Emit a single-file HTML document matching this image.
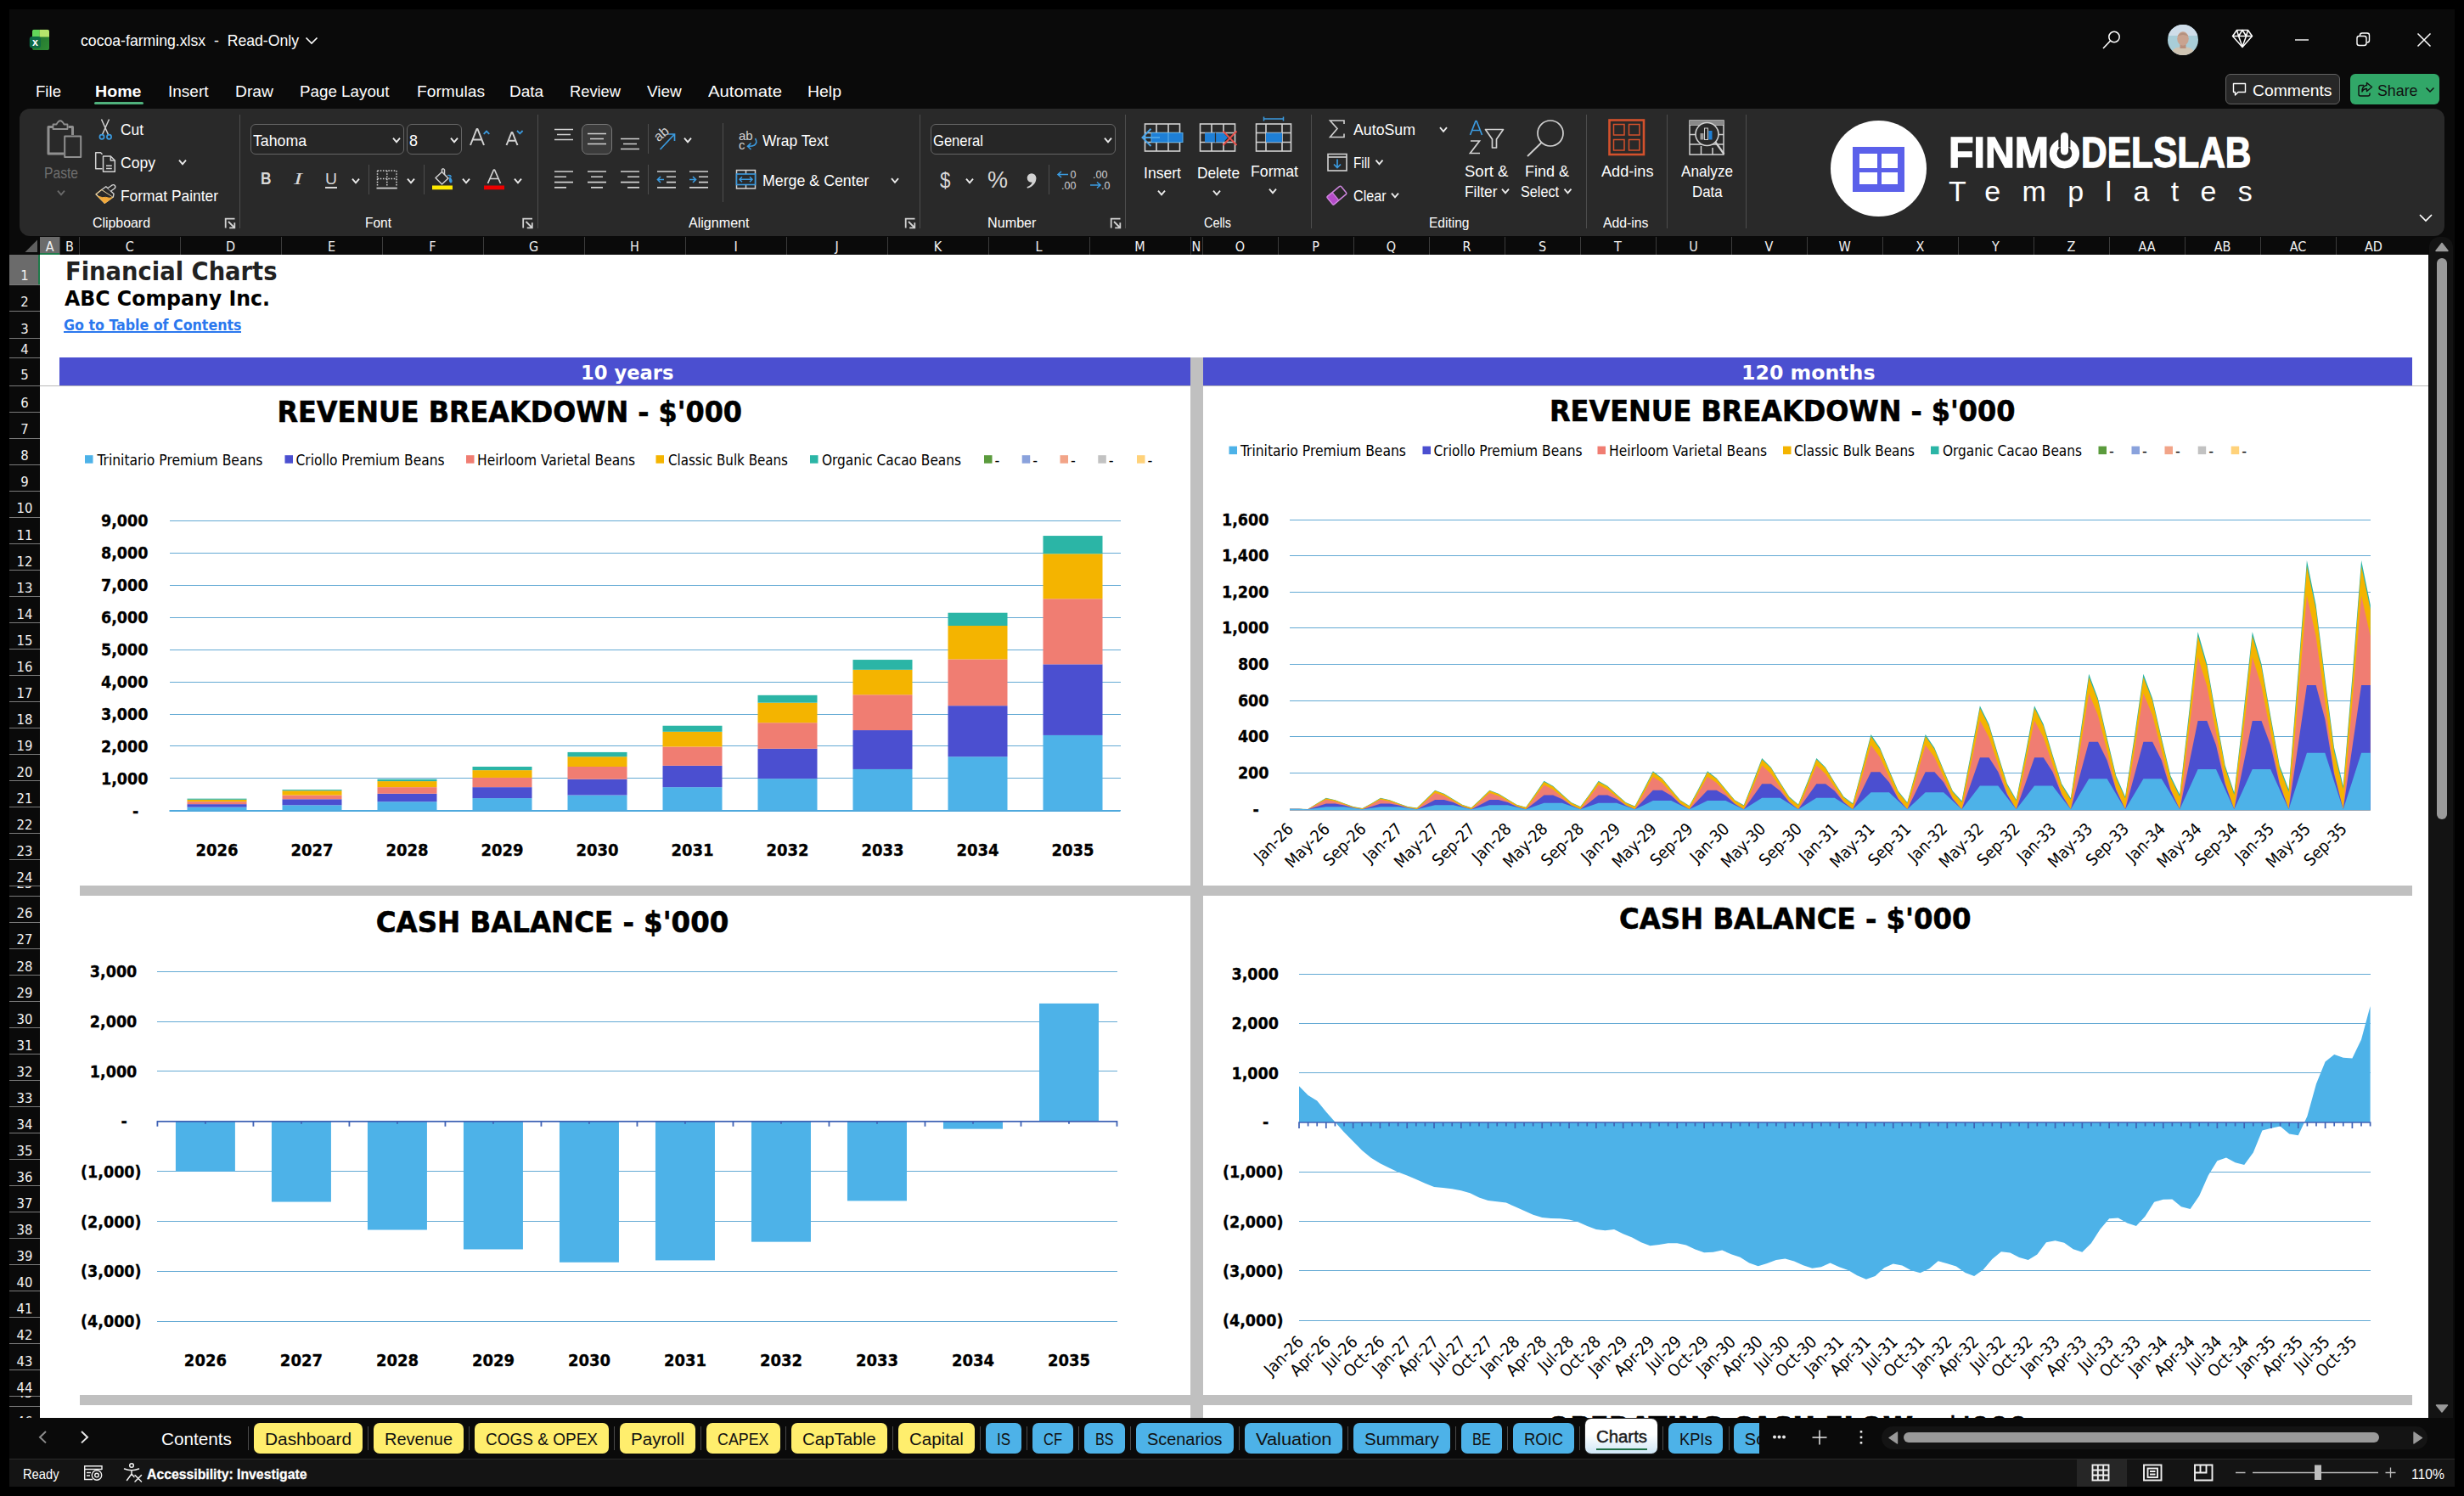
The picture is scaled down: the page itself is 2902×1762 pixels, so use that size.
<!DOCTYPE html>
<html lang="en"><head><meta charset="utf-8"><title>cocoa-farming.xlsx - Excel</title>
<style>
html,body{margin:0;padding:0}
body{width:2902px;height:1762px;background:#000;overflow:hidden;position:relative;font-family:"Liberation Sans",sans-serif}
.sec{position:absolute;left:0;top:0;width:0;height:0}
.sec>div,.sec>span,.sec>svg,.sec>a{position:absolute}
.t{white-space:pre;line-height:1;display:block}
svg{overflow:visible}
svg text{white-space:pre}
</style></head><body>
<div class="sec" id="window">
<div style="left:11px;top:11px;width:2880px;height:1740px;background:#0a0a0a;"></div>
</div>
<div class="sec" id="titlebar">
<svg style="left:34px;top:34px" width="26" height="26" viewBox="0 0 26 26">
<defs><linearGradient id="xg" x1="0" y1="0" x2="1" y2="1"><stop offset="0" stop-color="#1f6a2b"/><stop offset="1" stop-color="#2f8d35"/></linearGradient>
<clipPath id="xc"><rect x="4" y="0.800" width="20" height="24.200" rx="2.600"/></clipPath></defs>
<g clip-path="url(#xc)"><rect x="4" y="0.800" width="20" height="24.200" fill="url(#xg)"/><rect x="4" y="0.800" width="8.600" height="8.700" fill="#62d65a"/><rect x="12.600" y="0.800" width="11.400" height="8.700" fill="#b5e56b"/></g>
<rect x="0.800" y="8.900" width="13.200" height="13.600" rx="3" fill="#0e6b45"/>
<text x="7.500" y="19.500" font-family="Liberation Sans, sans-serif" font-weight="bold" font-size="12.500" fill="#fff" text-anchor="middle">x</text>
</svg>
<span class="t" style="font-family:'Liberation Sans', sans-serif;font-size:18.5px;color:#fff;left:95px;top:39.15px;transform:scaleX(0.9541);transform-origin:0 0;">cocoa-farming.xlsx  -  Read-Only</span>
<svg style="left:359px;top:42px" width="16" height="12"><path d="M1.5 2.5 L8 9 L14.5 2.5" fill="none" stroke="#fff" stroke-width="1.6"/></svg>
<svg style="left:2470px;top:30px" width="420" height="36">
<circle cx="20" cy="13.5" r="6.2" fill="none" stroke="#fff" stroke-width="1.5"/><path d="M15.6 18 L7 27" stroke="#fff" stroke-width="1.6"/>
<defs><clipPath id="av"><circle cx="101" cy="17" r="18"/></clipPath></defs>
<g clip-path="url(#av)"><rect x="83" y="-1" width="36" height="36" fill="#a8cdd8"/><rect x="83" y="-1" width="36" height="13" fill="#cfdde9"/>
<path d="M86 35 Q88 26.500 96 25.500 L106 25.500 Q114 26.500 116 35 Z" fill="#cfc4b3"/><rect x="97.500" y="20" width="7" height="7" fill="#b98f7c"/><ellipse cx="101" cy="15.500" rx="6.800" ry="8.300" fill="#c9a390"/><path d="M94.500 12.500 Q101 4.500 107.500 12.500 Q101 9.500 94.500 12.500Z" fill="#b3917f"/></g>
<g fill="none" stroke="#fff" stroke-width="1.5" stroke-linejoin="round"><path d="M164.500 5.5 L177.500 5.5 L182.500 12.500 L171 25.500 L159.500 12.500 Z"/><path d="M159.500 12.500 H182.500 M166.500 12.500 L171 25 L175.500 12.500 M164.500 5.500 L166.500 12.500 L171 5.500 L175.500 12.500 L177.500 5.500"/></g>
<path d="M233 17 H249" stroke="#fff" stroke-width="1.4"/>
<g fill="none" stroke="#fff" stroke-width="1.4"><rect x="306" y="12.500" width="11" height="11" rx="2.500"/><path d="M309.500 12 V11.500 Q309.500 9 312 9 H318 Q320.500 9 320.500 11.500 V17.500 Q320.500 20 318 20 H317.500"/></g>
<path d="M377.500 9.500 L392.500 24.500 M392.500 9.500 L377.500 24.500" stroke="#fff" stroke-width="1.5"/>
</svg>
</div>
<div class="sec" id="menubar">
<span class="t" style="font-family:'Liberation Sans', sans-serif;font-size:19px;color:#fff;left:42px;top:98.23px;transform:scaleX(0.9796);transform-origin:0 0;">File</span>
<span class="t" style="font-family:'Liberation Sans', sans-serif;font-size:19px;font-weight:bold;color:#fff;left:111.5px;top:98.23px;transform:scaleX(1.0323);transform-origin:0 0;">Home</span>
<span class="t" style="font-family:'Liberation Sans', sans-serif;font-size:19px;color:#fff;left:198px;top:98.23px;">Insert</span>
<span class="t" style="font-family:'Liberation Sans', sans-serif;font-size:19px;color:#fff;left:277px;top:98.23px;transform:scaleX(1.0148);transform-origin:0 0;">Draw</span>
<span class="t" style="font-family:'Liberation Sans', sans-serif;font-size:19px;color:#fff;left:353px;top:98.23px;transform:scaleX(0.9887);transform-origin:0 0;">Page Layout</span>
<span class="t" style="font-family:'Liberation Sans', sans-serif;font-size:19px;color:#fff;left:491px;top:98.23px;transform:scaleX(1.0103);transform-origin:0 0;">Formulas</span>
<span class="t" style="font-family:'Liberation Sans', sans-serif;font-size:19px;color:#fff;left:600px;top:98.23px;">Data</span>
<span class="t" style="font-family:'Liberation Sans', sans-serif;font-size:19px;color:#fff;left:671px;top:98.23px;transform:scaleX(0.9629);transform-origin:0 0;">Review</span>
<span class="t" style="font-family:'Liberation Sans', sans-serif;font-size:19px;color:#fff;left:762px;top:98.23px;">View</span>
<span class="t" style="font-family:'Liberation Sans', sans-serif;font-size:19px;color:#fff;left:834px;top:98.23px;transform:scaleX(1.0697);transform-origin:0 0;">Automate</span>
<span class="t" style="font-family:'Liberation Sans', sans-serif;font-size:19px;color:#fff;left:951px;top:98.23px;transform:scaleX(1.0236);transform-origin:0 0;">Help</span>
<div style="left:111px;top:120px;width:58px;height:3px;background:#4fb17c;border-radius:1.5px;"></div>
<div style="left:2621px;top:87px;width:135px;height:36px;background:#272727;border:1px solid #616161;border-radius:6px;box-sizing:border-box;"></div>
<svg style="left:2628px;top:96px" width="20" height="20"><path d="M2.5 2.500 H16.500 V12.500 H8 L4.500 16 V12.500 H2.500 Z" fill="none" stroke="#fff" stroke-width="1.4" stroke-linejoin="round"/></svg>
<span class="t" style="font-family:'Liberation Sans', sans-serif;font-size:19px;color:#fff;left:2652.5px;top:96.53px;transform:scaleX(1.0179);transform-origin:0 0;">Comments</span>
<div style="left:2768px;top:87px;width:105px;height:36px;background:#31a768;border-radius:6px;"></div>
<svg style="left:2775px;top:95px" width="22" height="22"><g fill="none" stroke="#111" stroke-width="1.4" stroke-linejoin="round"><path d="M9 5.500 H5 Q3 5.500 3 7.500 V16 Q3 18 5 18 H14 Q16 18 16 16 V14.500"/><path d="M12.500 2.500 L18.500 7.500 L12.500 12.500 V9.500 Q8.500 9.500 7 13 Q7 6 12.500 5.500 Z"/></g></svg>
<span class="t" style="font-family:'Liberation Sans', sans-serif;font-size:19px;color:#111;left:2800px;top:96.53px;transform:scaleX(0.9368);transform-origin:0 0;">Share</span>
<svg style="left:2856px;top:100.5px" width="12" height="10"><path d="M1.500 2.500 L6 7 L10.500 2.500" fill="none" stroke="#111" stroke-width="1.5"/></svg>
</div>
<div class="sec" id="ribbon">
<div style="left:23px;top:128px;width:2856px;height:150px;background:#292929;border-radius:12px;"></div>
<div style="left:282px;top:135px;width:1.3px;height:134px;background:#4d4d4d;"></div>
<div style="left:632.5px;top:135px;width:1.3px;height:134px;background:#4d4d4d;"></div>
<div style="left:1083px;top:135px;width:1.3px;height:134px;background:#4d4d4d;"></div>
<div style="left:1325px;top:135px;width:1.3px;height:134px;background:#4d4d4d;"></div>
<div style="left:1544px;top:135px;width:1.3px;height:134px;background:#4d4d4d;"></div>
<div style="left:1867.5px;top:135px;width:1.3px;height:134px;background:#4d4d4d;"></div>
<div style="left:1963px;top:135px;width:1.3px;height:134px;background:#4d4d4d;"></div>
<div style="left:2055.5px;top:135px;width:1.3px;height:134px;background:#4d4d4d;"></div>
<div style="left:433.5px;top:194px;width:1.2px;height:35px;background:#4d4d4d;"></div>
<div style="left:498.5px;top:194px;width:1.2px;height:35px;background:#4d4d4d;"></div>
<div style="left:763px;top:146px;width:1.2px;height:35px;background:#4d4d4d;"></div>
<div style="left:763px;top:194px;width:1.2px;height:35px;background:#4d4d4d;"></div>
<div style="left:850.5px;top:144.5px;width:1.2px;height:93px;background:#4d4d4d;"></div>
<div style="left:1234.5px;top:194px;width:1.2px;height:35px;background:#4d4d4d;"></div>
<span class="t" style="font-family:'Liberation Sans', sans-serif;font-size:16.5px;color:#fff;left:109px;top:253.84px;transform:scaleX(0.9628);transform-origin:0 0;">Clipboard</span>
<span class="t" style="font-family:'Liberation Sans', sans-serif;font-size:16.5px;color:#fff;left:430px;top:253.84px;transform:scaleX(0.9385);transform-origin:0 0;">Font</span>
<span class="t" style="font-family:'Liberation Sans', sans-serif;font-size:16.5px;color:#fff;left:810.5px;top:253.84px;transform:scaleX(0.9744);transform-origin:0 0;">Alignment</span>
<span class="t" style="font-family:'Liberation Sans', sans-serif;font-size:16.5px;color:#fff;left:1163px;top:253.84px;transform:scaleX(0.9798);transform-origin:0 0;">Number</span>
<span class="t" style="font-family:'Liberation Sans', sans-serif;font-size:16.5px;color:#fff;left:1418px;top:253.84px;transform:scaleX(0.8722);transform-origin:0 0;">Cells</span>
<span class="t" style="font-family:'Liberation Sans', sans-serif;font-size:16.5px;color:#fff;left:1682.5px;top:253.84px;transform:scaleX(0.9415);transform-origin:0 0;">Editing</span>
<span class="t" style="font-family:'Liberation Sans', sans-serif;font-size:16.5px;color:#fff;left:1888px;top:253.84px;transform:scaleX(0.9562);transform-origin:0 0;">Add-ins</span>
<span class="t" style="font-family:'Liberation Sans', sans-serif;font-size:18.5px;color:#6e6e6e;left:52px;top:194.95px;transform:scaleX(0.8454);transform-origin:0 0;">Paste</span>
<span class="t" style="font-family:'Liberation Sans', sans-serif;font-size:18.5px;color:#fff;left:142px;top:143.95px;transform:scaleX(0.9376);transform-origin:0 0;">Cut</span>
<span class="t" style="font-family:'Liberation Sans', sans-serif;font-size:18.5px;color:#fff;left:142px;top:182.95px;transform:scaleX(0.949);transform-origin:0 0;">Copy</span>
<span class="t" style="font-family:'Liberation Sans', sans-serif;font-size:18.5px;color:#fff;left:142px;top:221.95px;transform:scaleX(0.9399);transform-origin:0 0;">Format Painter</span>
<div style="left:295px;top:146px;width:180.5px;height:35.5px;background:#262626;border:1px solid #666;border-radius:6px;box-sizing:border-box;"></div>
<div style="left:479px;top:146px;width:64.5px;height:35.5px;background:#262626;border:1px solid #666;border-radius:6px;box-sizing:border-box;"></div>
<span class="t" style="font-family:'Liberation Sans', sans-serif;font-size:18.5px;color:#fff;left:298px;top:156.95px;transform:scaleX(0.957);transform-origin:0 0;">Tahoma</span>
<span class="t" style="font-family:'Liberation Sans', sans-serif;font-size:18.5px;color:#fff;left:482px;top:156.95px;transform:scaleX(0.9712);transform-origin:0 0;">8</span>
<span class="t" style="font-family:'Liberation Sans', sans-serif;font-size:19.5px;font-weight:bold;color:#d8d8d8;left:307px;top:201.3px;transform:scaleX(0.8869);transform-origin:0 0;">B</span>
<span class="t" style="font-family:'Liberation Serif', serif;font-size:19.5px;font-style:italic;color:#d8d8d8;left:346px;top:201.3px;transform:scaleX(1.5385);transform-origin:0 0;">I</span>
<span class="t" style="font-family:'Liberation Sans', sans-serif;font-size:19px;color:#d8d8d8;left:383px;top:200.73px;transform:scaleX(1.0193);transform-origin:0 0;">U</span>
<div style="left:383px;top:220px;width:14px;height:1.5px;background:#d8d8d8;"></div>
<div style="left:685px;top:146px;width:36px;height:36px;background:#3b3b3b;border:1px solid #777;border-radius:7px;box-sizing:border-box;"></div>
<span class="t" style="font-family:'Liberation Sans', sans-serif;font-size:18.5px;color:#fff;left:897.5px;top:156.95px;transform:scaleX(0.9382);transform-origin:0 0;">Wrap Text</span>
<span class="t" style="font-family:'Liberation Sans', sans-serif;font-size:18.5px;color:#fff;left:897.5px;top:204.45px;transform:scaleX(0.961);transform-origin:0 0;">Merge &amp; Center</span>
<div style="left:1096px;top:146px;width:218px;height:35.5px;background:#262626;border:1px solid #666;border-radius:6px;box-sizing:border-box;"></div>
<span class="t" style="font-family:'Liberation Sans', sans-serif;font-size:18.5px;color:#fff;left:1099px;top:156.95px;transform:scaleX(0.8963);transform-origin:0 0;">General</span>
<span class="t" style="font-family:'Liberation Sans', sans-serif;font-size:25px;color:#d8d8d8;left:1107px;top:199.65px;transform:scaleX(0.8989);transform-origin:0 0;">$</span>
<span class="t" style="font-family:'Liberation Sans', sans-serif;font-size:27px;color:#d8d8d8;left:1163px;top:198.96px;">%</span>
<span class="t" style="font-family:'Liberation Sans', sans-serif;font-size:18.5px;color:#fff;left:1347px;top:194.95px;transform:scaleX(0.9507);transform-origin:0 0;">Insert</span>
<span class="t" style="font-family:'Liberation Sans', sans-serif;font-size:18.5px;color:#fff;left:1409.5px;top:194.95px;transform:scaleX(0.9349);transform-origin:0 0;">Delete</span>
<span class="t" style="font-family:'Liberation Sans', sans-serif;font-size:18.5px;color:#fff;left:1472.5px;top:192.95px;transform:scaleX(0.9557);transform-origin:0 0;">Format</span>
<span class="t" style="font-family:'Liberation Sans', sans-serif;font-size:18.5px;color:#fff;left:1593.5px;top:144.45px;transform:scaleX(0.9591);transform-origin:0 0;">AutoSum</span>
<span class="t" style="font-family:'Liberation Sans', sans-serif;font-size:18.5px;color:#fff;left:1593.5px;top:183.45px;transform:scaleX(0.8249);transform-origin:0 0;">Fill</span>
<span class="t" style="font-family:'Liberation Sans', sans-serif;font-size:18.5px;color:#fff;left:1593.5px;top:222.45px;transform:scaleX(0.8707);transform-origin:0 0;">Clear</span>
<span class="t" style="font-family:'Liberation Sans', sans-serif;font-size:18.5px;color:#fff;left:1725px;top:192.95px;">Sort &amp;</span>
<span class="t" style="font-family:'Liberation Sans', sans-serif;font-size:18.5px;color:#fff;left:1724.5px;top:217.45px;transform:scaleX(0.9362);transform-origin:0 0;">Filter</span>
<span class="t" style="font-family:'Liberation Sans', sans-serif;font-size:18.5px;color:#fff;left:1795.5px;top:192.95px;transform:scaleX(0.9725);transform-origin:0 0;">Find &amp;</span>
<span class="t" style="font-family:'Liberation Sans', sans-serif;font-size:18.5px;color:#fff;left:1791px;top:217.45px;transform:scaleX(0.8751);transform-origin:0 0;">Select</span>
<span class="t" style="font-family:'Liberation Sans', sans-serif;font-size:18.5px;color:#fff;left:1885.5px;top:192.95px;transform:scaleX(0.9803);transform-origin:0 0;">Add-ins</span>
<span class="t" style="font-family:'Liberation Sans', sans-serif;font-size:18.5px;color:#fff;left:1980px;top:192.95px;transform:scaleX(0.9267);transform-origin:0 0;">Analyze</span>
<span class="t" style="font-family:'Liberation Sans', sans-serif;font-size:18.5px;color:#fff;left:1992.5px;top:217.45px;transform:scaleX(0.9084);transform-origin:0 0;">Data</span>
</div>
<div class="sec" id="logo">
<div style="left:2156px;top:142.2px;width:112.6px;height:112.6px;background:#fff;border-radius:50%;"></div>
<div style="left:2181.5px;top:173px;width:61.7px;height:52.6px;background:#5b60ea;"></div>
<div style="left:2190px;top:181.3px;width:20.7px;height:17.2px;background:#fff;"></div>
<div style="left:2190px;top:203.4px;width:20.7px;height:14px;background:#fff;"></div>
<div style="left:2216px;top:181.3px;width:19px;height:17.2px;background:#fff;"></div>
<div style="left:2216px;top:203.4px;width:19px;height:14px;background:#fff;"></div>
<span class="t" style="font-family:'Liberation Sans', sans-serif;font-size:49.5px;font-weight:bold;color:#fff;left:2295px;top:155.32px;transform:scaleX(0.9753);transform-origin:0 0;-webkit-text-stroke:1.3px #fff;">FINM</span>
<span class="t" style="font-family:'Liberation Sans', sans-serif;font-size:49.5px;font-weight:bold;color:#fff;left:2451px;top:155.32px;transform:scaleX(0.8578);transform-origin:0 0;-webkit-text-stroke:1.3px #fff;">DELSLAB</span>
<svg style="left:2410px;top:152.5px" width="46" height="50"><circle cx="21.400" cy="27.800" r="13.300" fill="none" stroke="#fff" stroke-width="8.800"/><rect x="14.300" y="1" width="14.200" height="19.500" fill="#292929"/><rect x="17" y="3" width="9" height="26.500" rx="4.500" fill="#fff"/></svg>
<span class="t" style="font-family:'Liberation Sans', sans-serif;font-size:34px;color:#fff;letter-spacing:25.34px;left:2295px;top:208.24px;">Templates</span>
<svg style="left:2848px;top:250px" width="18" height="14"><path d="M2 3 L9 10 L16 3" fill="none" stroke="#fff" stroke-width="1.6"/></svg>
</div>
<div class="sec" id="ribbon-icons">
<svg style="left:0;top:0" width="2902" height="290"><path d="M68 224.7 L72 229.3 L76 224.7" fill="none" stroke="#6a6a6a" stroke-width="1.9"/>
<path d="M211 188.7 L215 193.3 L219 188.7" fill="none" stroke="#ececec" stroke-width="1.9"/>
<path d="M463 162.7 L467 167.3 L471 162.7" fill="none" stroke="#ececec" stroke-width="1.9"/>
<path d="M531 162.7 L535 167.3 L539 162.7" fill="none" stroke="#ececec" stroke-width="1.9"/>
<path d="M415 210.7 L419 215.3 L423 210.7" fill="none" stroke="#ececec" stroke-width="1.9"/>
<path d="M480 210.7 L484 215.3 L488 210.7" fill="none" stroke="#ececec" stroke-width="1.9"/>
<path d="M545 210.7 L549 215.3 L553 210.7" fill="none" stroke="#ececec" stroke-width="1.9"/>
<path d="M606 210.7 L610 215.3 L614 210.7" fill="none" stroke="#ececec" stroke-width="1.9"/>
<path d="M806 162.7 L810 167.3 L814 162.7" fill="none" stroke="#ececec" stroke-width="1.9"/>
<path d="M1050 210.2 L1054 214.8 L1058 210.2" fill="none" stroke="#ececec" stroke-width="1.9"/>
<path d="M1301 162.7 L1305 167.3 L1309 162.7" fill="none" stroke="#ececec" stroke-width="1.9"/>
<path d="M1138 210.7 L1142 215.3 L1146 210.7" fill="none" stroke="#ececec" stroke-width="1.9"/>
<path d="M1364 224.7 L1368 229.3 L1372 224.7" fill="none" stroke="#ececec" stroke-width="1.9"/>
<path d="M1429 224.7 L1433 229.3 L1437 224.7" fill="none" stroke="#ececec" stroke-width="1.9"/>
<path d="M1495 222.7 L1499 227.3 L1503 222.7" fill="none" stroke="#ececec" stroke-width="1.9"/>
<path d="M1696 150.2 L1700 154.8 L1704 150.2" fill="none" stroke="#ececec" stroke-width="1.9"/>
<path d="M1620.5 188.7 L1624.5 193.3 L1628.5 188.7" fill="none" stroke="#ececec" stroke-width="1.9"/>
<path d="M1639 227.7 L1643 232.3 L1647 227.7" fill="none" stroke="#ececec" stroke-width="1.9"/>
<path d="M1769 222.7 L1773 227.3 L1777 222.7" fill="none" stroke="#ececec" stroke-width="1.9"/>
<path d="M1842.5 222.7 L1846.5 227.3 L1850.5 222.7" fill="none" stroke="#ececec" stroke-width="1.9"/>
<path d="M276.5 257.7 H265.7 V268.5" fill="none" stroke="#d2d2d2" stroke-width="1.8"/><path d="M269 261 L276 268 M276.3 262.2 V268.3 H270.2" fill="none" stroke="#d2d2d2" stroke-width="1.8"/>
<path d="M627 257.7 H616.2 V268.5" fill="none" stroke="#d2d2d2" stroke-width="1.8"/><path d="M619.5 261 L626.5 268 M626.8 262.2 V268.3 H620.7" fill="none" stroke="#d2d2d2" stroke-width="1.8"/>
<path d="M1077.5 257.7 H1066.7 V268.5" fill="none" stroke="#d2d2d2" stroke-width="1.8"/><path d="M1070 261 L1077 268 M1077.3 262.2 V268.3 H1071.2" fill="none" stroke="#d2d2d2" stroke-width="1.8"/>
<path d="M1319.5 257.7 H1308.7 V268.5" fill="none" stroke="#d2d2d2" stroke-width="1.8"/><path d="M1312 261 L1319 268 M1319.3 262.2 V268.3 H1313.2" fill="none" stroke="#d2d2d2" stroke-width="1.8"/>
<g fill="none" stroke="#8f8f8f" stroke-linejoin="round"><path d="M63 149.500 H57 V181 H75" stroke-width="3"/><path d="M80.500 149.500 H85.500 V159" stroke-width="3"/><path d="M62.500 152 V146.500 H66.500 Q71 138 75.500 146.500 H79.500 V152 Z" stroke-width="1.800"/><rect x="76.200" y="160.500" width="19" height="24.500" stroke-width="2" fill="#292929"/></g>
<g fill="none" stroke-width="1.500"><path d="M119.500 140.500 L127.500 158.500 M128.500 140.500 L120.500 158.500" stroke="#d2d2d2"/><circle cx="120" cy="161.300" r="2.600" stroke="#3b9be0" stroke-width="1.700"/><circle cx="128.500" cy="161.300" r="2.600" stroke="#3b9be0" stroke-width="1.700"/></g>
<g fill="none" stroke="#d2d2d2" stroke-width="1.500" stroke-linejoin="round"><path d="M120.500 198.800 H112.700 V179.700 H118.500 L120.500 181.700"/><path d="M121.500 184 H130.300 L135.300 189 V202.300 H121.500 Z" fill="#292929"/><path d="M130.300 184 V189 H135.300"/><path d="M125 195.300 H131.800 M125 198.500 H131.800"/></g>
<g stroke-linejoin="round" stroke-width="1.400"><path d="M113 228.700 L120 223.300 L133.300 232 L123.300 239.300 Z" fill="#292929" stroke="#f3d9a6"/><path d="M115.800 231.300 Q121 233.500 124.500 232.300 Q128.500 233.800 132 232.900 L123.300 239.300 Z" fill="#f2a93a" stroke="#f2a93a" stroke-width="1"/><path d="M120.200 223.200 L124.800 219.800 L134 228.300 L133.300 232" fill="#292929" stroke="#d2d2d2"/><path d="M126.800 221.800 L131.800 218.200 Q134 216.800 135.500 218.800 Q136.500 220.800 134.600 222.300 L130.300 225.300" fill="#292929" stroke="#d2d2d2"/></g>
<g fill="none" stroke="#d2d2d2" stroke-width="2" stroke-linejoin="round"><path d="M554 171 L561.500 152 H562.500 L570 171 M556.700 164.500 H567.300"/><path d="M596.500 171 L602.500 156 H603.500 L609.500 171 M598.700 165.800 H607.300"/></g>
<path d="M569.700 157.800 L573 154.500 L576.300 157.800" fill="none" stroke="#3b9be0" stroke-width="1.800"/>
<path d="M609 154 L612.300 157.300 L615.600 154" fill="none" stroke="#3b9be0" stroke-width="1.800"/>
<g fill="none" stroke="#d2d2d2" stroke-width="1.500"><path d="M444.500 201 H467 M444.500 201 V220 M467 201 V220 M455.800 201 V220 M444.500 210.500 H467" stroke-dasharray="1.600 1.600"/><path d="M443.500 221.600 H467.800" stroke-width="1.800"/></g>
<g fill="none" stroke="#d2d2d2" stroke-width="1.500" stroke-linejoin="round"><path d="M520.500 202.500 L528 210 L520.500 217 L513 209.500 Z"/><path d="M520.500 202.500 V199.500 Q522.500 198 523.500 200 V205.500"/></g><path d="M530 209 Q533.500 213.500 531 215 Q528.500 213.500 530 209Z M527 206.500 Q531 205.500 531.500 208.500" fill="#3b9be0" stroke="#3b9be0" stroke-width="1.200"/>
<rect x="509" y="218.500" width="24" height="4.800" fill="#ffeb00"/>
<path d="M574.500 216 L581.500 200 H582.500 L589.500 216 M577 210.500 H587" fill="none" stroke="#d2d2d2" stroke-width="1.700" stroke-linejoin="round"/>
<rect x="570" y="218.500" width="24" height="4.800" fill="#ee0000"/>
<path d="M653 152.5 h22 M656 158.5 h16 M653 164.5 h22 " stroke="#d2d2d2" stroke-width="1.6" fill="none"/>
<path d="M692 157.5 h22 M695 163.5 h16 M692 169.5 h22 " stroke="#d2d2d2" stroke-width="1.6" fill="none"/>
<path d="M731 163.5 h22 M734 169.5 h16 M731 175.5 h22 " stroke="#d2d2d2" stroke-width="1.6" fill="none"/>
<path d="M777.500 176 L794 158.500 M786.500 158 H794.500 V166" fill="none" stroke="#3b9be0" stroke-width="1.700"/>
<text transform="translate(775.500,167.500) rotate(-40)" font-family="Liberation Sans, sans-serif" font-size="16" fill="#d2d2d2">ab</text>
<path d="M653 202 h22 M653 208.3 h14 M653 214.6 h22 M653 220.9 h14 " stroke="#d2d2d2" stroke-width="1.6" fill="none"/>
<path d="M692 202 h22 M696 208.3 h14 M692 214.6 h22 M696 220.9 h14 " stroke="#d2d2d2" stroke-width="1.6" fill="none"/>
<path d="M731 202 h22 M739 208.3 h14 M731 214.6 h22 M739 220.9 h14 " stroke="#d2d2d2" stroke-width="1.6" fill="none"/>
<path d="M774 202 h22 M785 208.300 h11 M785 214.600 h11 M774 220.900 h22" stroke="#d2d2d2" stroke-width="1.600" fill="none"/>
<path d="M782 211.500 H774.5 M778 208 L774.5 211.500 L778 215" stroke="#3b9be0" stroke-width="1.600" fill="none"/>
<path d="M812 202 h22 M823 208.300 h11 M823 214.600 h11 M812 220.900 h22" stroke="#d2d2d2" stroke-width="1.600" fill="none"/>
<path d="M812 211.500 H819.5 M816 208 L819.5 211.500 L816 215" stroke="#3b9be0" stroke-width="1.600" fill="none"/>
<text x="870" y="164.500" font-family="Liberation Sans, sans-serif" font-size="15" fill="#d2d2d2">ab</text><text x="870" y="175.500" font-family="Liberation Sans, sans-serif" font-size="15" fill="#d2d2d2">c</text>
<path d="M889.500 163 Q892.500 168 888.500 171 Q886 172.500 881 172.300 M884.500 168.500 L880.500 172.300 L884.500 176" fill="none" stroke="#3b9be0" stroke-width="1.600"/>
<g fill="none" stroke="#d2d2d2" stroke-width="1.500"><rect x="867.500" y="200.500" width="22" height="21.500"/><path d="M878.500 200.500 V205 M878.500 217.500 V222"/></g><rect x="867.500" y="205" width="22" height="12.500" fill="#292929" stroke="#3b9be0" stroke-width="1.600"/><path d="M871 211.200 H886 M874 208.200 L871 211.200 L874 214.200 M883 208.200 L886 211.200 L883 214.200" fill="none" stroke="#3b9be0" stroke-width="1.500"/>
<g font-family="Liberation Sans, sans-serif" font-size="12.500" fill="#d2d2d2"><text x="1260.500" y="210">0</text><text x="1250" y="222.500">.00</text><text x="1287" y="210">.00</text><text x="1297" y="222.500">.0</text></g>
<path d="M1246 205.500 H1258 M1250 202 L1246 205.500 L1250 209" fill="none" stroke="#3b9be0" stroke-width="1.600"/>
<path d="M1284 218 H1296 M1292 214.500 L1296 218 L1292 221.500" fill="none" stroke="#3b9be0" stroke-width="1.600"/>
<circle cx="1215" cy="209.500" r="5.300" fill="#d2d2d2"/><path d="M1220.300 209 C1221 215 1216.500 220 1210 221.800 L1209.500 220.200 C1213.500 218.800 1215.600 216.500 1215.600 214 Z" fill="#d2d2d2"/>
<g fill="none" stroke="#d2d2d2" stroke-width="1.600"><rect x="1348.500" y="146" width="41" height="32"/><path d="M1362 146 V178 M1376 146 V178 M1348.500 156.500 H1389.500 M1348.500 167.500 H1389.500"/></g>
<rect x="1356" y="156.500" width="37" height="11" fill="#1e7fd6" stroke="#58aeea" stroke-width="1"/><path d="M1376 157 V167" stroke="#58aeea" stroke-width="1.200"/>
<path d="M1366 162 H1346 M1355.500 151.800 L1345.500 162 L1355.500 172" fill="none" stroke="#4aa3e6" stroke-width="2"/>
<g fill="none" stroke="#d2d2d2" stroke-width="1.600"><rect x="1413.500" y="146" width="41" height="32"/><path d="M1427 146 V178 M1441 146 V178 M1413.500 156.500 H1454.500 M1413.500 167.500 H1454.500"/></g>
<rect x="1419" y="156.500" width="22" height="11" fill="#1e7fd6"/><path d="M1441 156.500 L1446 162 L1441 167.500 Z" fill="#1e7fd6"/><path d="M1431.500 156.500 V167.500" stroke="#292929" stroke-width="1.200"/>
<path d="M1440.500 154.500 L1456.500 171 M1456.500 154.500 L1440.500 171" stroke="#e8504a" stroke-width="1.900" fill="none"/>
<g fill="none" stroke="#d2d2d2" stroke-width="1.600"><rect x="1479.500" y="146" width="41" height="32"/><path d="M1491 146 V178 M1510 146 V178 M1479.500 156.500 H1520.500 M1479.500 167.500 H1520.500"/></g>
<rect x="1491" y="156.500" width="19" height="11" fill="#1e7fd6"/>
<path d="M1488.500 140 H1511.500 M1488.500 137.500 V142.500 M1511.500 137.500 V142.500" stroke="#3b9be0" stroke-width="1.500" fill="none"/>
<path d="M1583 146 V142 H1566.500 L1575 151.500 L1566.500 161.500 H1583 V157.500" fill="none" stroke="#d2d2d2" stroke-width="1.600" stroke-linejoin="miter"/>
<g fill="none" stroke="#d2d2d2" stroke-width="1.600"><rect x="1564" y="181.500" width="22" height="19.500"/><path d="M1564 185 H1586"/></g><path d="M1575 187.500 V197 M1571 193.500 L1575 197.500 L1579 193.500" fill="none" stroke="#3b9be0" stroke-width="1.700"/>
<g transform="translate(1574.500,230) rotate(-40)"><rect x="-10.500" y="-6" width="21" height="12" rx="1.500" fill="none" stroke="#cf86df" stroke-width="1.500"/><rect x="-10.500" y="-6" width="8.500" height="12" rx="1" fill="#b44bc9" stroke="#cf86df" stroke-width="1.200"/></g>
<path d="M1731.500 159 L1738 142.500 H1739 L1745.500 159 M1733.800 153.500 H1743.200" fill="none" stroke="#3b9be0" stroke-width="1.700" stroke-linejoin="round"/>
<path d="M1732 166 H1742.500 L1731.500 180.500 H1743" fill="none" stroke="#d2d2d2" stroke-width="1.700"/>
<path d="M1749.500 152.500 H1770.500 L1762.500 164 V174 H1757.500 V164 Z" fill="none" stroke="#d2d2d2" stroke-width="1.700" stroke-linejoin="round"/>
<circle cx="1826" cy="157" r="15" fill="none" stroke="#d2d2d2" stroke-width="1.700"/><path d="M1815.500 168 L1799 184" stroke="#d2d2d2" stroke-width="1.800"/>
<g fill="none" stroke="#d4512c"><rect x="1895.500" y="141.500" width="40.500" height="40.500" stroke-width="2.600"/><g stroke-width="1.500"><rect x="1900.500" y="146.500" width="12.500" height="12.500"/><rect x="1918.500" y="146.500" width="12.500" height="12.500"/><rect x="1900.500" y="164.500" width="12.500" height="12.500"/><rect x="1918.500" y="164.500" width="12.500" height="12.500"/></g></g>
<g fill="none" stroke="#d2d2d2" stroke-width="1.500"><rect x="1990" y="142" width="40" height="40"/><path d="M1990 147 H2030 M1990 158.500 H1998 M2024 158.500 H2030 M1990 170 H2002 M1990 182 M2003.500 172 V182 M2017 174 V182 M1996 170 H2030" /></g><rect x="1990" y="142" width="40" height="5" fill="#8a8a8a"/><circle cx="2010.500" cy="158" r="13.500" fill="#292929" stroke="#d2d2d2" stroke-width="1.600"/><path d="M2020.500 167.500 L2030.500 181.500" stroke="#d2d2d2" stroke-width="2.200"/><rect x="2002.500" y="157" width="4" height="7.500" fill="#9a9a9a"/><rect x="2007.500" y="151" width="4" height="13.500" fill="none" stroke="#d2d2d2" stroke-width="1"/><rect x="2012.500" y="154" width="4" height="10.500" fill="#1e7fd6"/></svg>
</div>
<div class="sec" id="grid-headers">
<div style="left:11px;top:278px;width:2849px;height:22px;background:#0a0a0a;"></div>
<svg style="left:28px;top:281px" width="18" height="18"><path d="M16 1.500 V16 H1.500 Z" fill="#5f5f5f"/></svg>
<div style="left:47px;top:278.5px;width:23.5px;height:21.5px;background:#6b6b6b;border-bottom:2px solid #1f7a4a;box-sizing:border-box;"></div>
<span class="t" style="font-family:'DejaVu Sans Condensed', 'DejaVu Sans', sans-serif;font-size:16px;color:#f2f2f2;left:53.83px;top:282.66px;">A</span>
<div style="left:70px;top:279px;width:1px;height:21px;background:#3c3c3c;"></div>
<span class="t" style="font-family:'DejaVu Sans Condensed', 'DejaVu Sans', sans-serif;font-size:16px;color:#f2f2f2;left:77.06px;top:282.66px;">B</span>
<div style="left:93px;top:279px;width:1px;height:21px;background:#3c3c3c;"></div>
<span class="t" style="font-family:'DejaVu Sans Condensed', 'DejaVu Sans', sans-serif;font-size:16px;color:#f2f2f2;left:147.72px;top:282.66px;">C</span>
<div style="left:211.5px;top:279px;width:1px;height:21px;background:#3c3c3c;"></div>
<span class="t" style="font-family:'DejaVu Sans Condensed', 'DejaVu Sans', sans-serif;font-size:16px;color:#f2f2f2;left:265.95px;top:282.66px;">D</span>
<div style="left:330.5px;top:279px;width:1px;height:21px;background:#3c3c3c;"></div>
<span class="t" style="font-family:'DejaVu Sans Condensed', 'DejaVu Sans', sans-serif;font-size:16px;color:#f2f2f2;left:385.95px;top:282.66px;">E</span>
<div style="left:449.5px;top:279px;width:1px;height:21px;background:#3c3c3c;"></div>
<span class="t" style="font-family:'DejaVu Sans Condensed', 'DejaVu Sans', sans-serif;font-size:16px;color:#f2f2f2;left:505.36px;top:282.66px;">F</span>
<div style="left:568.5px;top:279px;width:1px;height:21px;background:#3c3c3c;"></div>
<span class="t" style="font-family:'DejaVu Sans Condensed', 'DejaVu Sans', sans-serif;font-size:16px;color:#f2f2f2;left:622.92px;top:282.66px;">G</span>
<div style="left:687.5px;top:279px;width:1px;height:21px;background:#3c3c3c;"></div>
<span class="t" style="font-family:'DejaVu Sans Condensed', 'DejaVu Sans', sans-serif;font-size:16px;color:#f2f2f2;left:742.09px;top:282.66px;">H</span>
<div style="left:806.5px;top:279px;width:1px;height:21px;background:#3c3c3c;"></div>
<span class="t" style="font-family:'DejaVu Sans Condensed', 'DejaVu Sans', sans-serif;font-size:16px;color:#f2f2f2;left:864.38px;top:282.66px;">I</span>
<div style="left:925.5px;top:279px;width:1px;height:21px;background:#3c3c3c;"></div>
<span class="t" style="font-family:'DejaVu Sans Condensed', 'DejaVu Sans', sans-serif;font-size:16px;color:#f2f2f2;left:983.38px;top:282.66px;">J</span>
<div style="left:1044.5px;top:279px;width:1px;height:21px;background:#3c3c3c;"></div>
<span class="t" style="font-family:'DejaVu Sans Condensed', 'DejaVu Sans', sans-serif;font-size:16px;color:#f2f2f2;left:1099.78px;top:282.66px;">K</span>
<div style="left:1163.5px;top:279px;width:1px;height:21px;background:#3c3c3c;"></div>
<span class="t" style="font-family:'DejaVu Sans Condensed', 'DejaVu Sans', sans-serif;font-size:16px;color:#f2f2f2;left:1219.49px;top:282.66px;">L</span>
<div style="left:1282.5px;top:279px;width:1px;height:21px;background:#3c3c3c;"></div>
<span class="t" style="font-family:'DejaVu Sans Condensed', 'DejaVu Sans', sans-serif;font-size:16px;color:#f2f2f2;left:1336.29px;top:282.66px;">M</span>
<div style="left:1401.5px;top:279px;width:1px;height:21px;background:#3c3c3c;"></div>
<span class="t" style="font-family:'DejaVu Sans Condensed', 'DejaVu Sans', sans-serif;font-size:16px;color:#f2f2f2;left:1403.62px;top:282.66px;">N</span>
<div style="left:1415.5px;top:279px;width:1px;height:21px;background:#3c3c3c;"></div>
<span class="t" style="font-family:'DejaVu Sans Condensed', 'DejaVu Sans', sans-serif;font-size:16px;color:#f2f2f2;left:1454.84px;top:282.66px;">O</span>
<div style="left:1504.5px;top:279px;width:1px;height:21px;background:#3c3c3c;"></div>
<span class="t" style="font-family:'DejaVu Sans Condensed', 'DejaVu Sans', sans-serif;font-size:16px;color:#f2f2f2;left:1545.16px;top:282.66px;">P</span>
<div style="left:1593.5px;top:279px;width:1px;height:21px;background:#3c3c3c;"></div>
<span class="t" style="font-family:'DejaVu Sans Condensed', 'DejaVu Sans', sans-serif;font-size:16px;color:#f2f2f2;left:1632.84px;top:282.66px;">Q</span>
<div style="left:1682.5px;top:279px;width:1px;height:21px;background:#3c3c3c;"></div>
<span class="t" style="font-family:'DejaVu Sans Condensed', 'DejaVu Sans', sans-serif;font-size:16px;color:#f2f2f2;left:1722.5px;top:282.66px;">R</span>
<div style="left:1771.5px;top:279px;width:1px;height:21px;background:#3c3c3c;"></div>
<span class="t" style="font-family:'DejaVu Sans Condensed', 'DejaVu Sans', sans-serif;font-size:16px;color:#f2f2f2;left:1811.93px;top:282.66px;">S</span>
<div style="left:1860.5px;top:279px;width:1px;height:21px;background:#3c3c3c;"></div>
<span class="t" style="font-family:'DejaVu Sans Condensed', 'DejaVu Sans', sans-serif;font-size:16px;color:#f2f2f2;left:1901.1px;top:282.66px;">T</span>
<div style="left:1949.5px;top:279px;width:1px;height:21px;background:#3c3c3c;"></div>
<span class="t" style="font-family:'DejaVu Sans Condensed', 'DejaVu Sans', sans-serif;font-size:16px;color:#f2f2f2;left:1989.23px;top:282.66px;">U</span>
<div style="left:2038.5px;top:279px;width:1px;height:21px;background:#3c3c3c;"></div>
<span class="t" style="font-family:'DejaVu Sans Condensed', 'DejaVu Sans', sans-serif;font-size:16px;color:#f2f2f2;left:2078.58px;top:282.66px;">V</span>
<div style="left:2127.5px;top:279px;width:1px;height:21px;background:#3c3c3c;"></div>
<span class="t" style="font-family:'DejaVu Sans Condensed', 'DejaVu Sans', sans-serif;font-size:16px;color:#f2f2f2;left:2165.38px;top:282.66px;">W</span>
<div style="left:2216.5px;top:279px;width:1px;height:21px;background:#3c3c3c;"></div>
<span class="t" style="font-family:'DejaVu Sans Condensed', 'DejaVu Sans', sans-serif;font-size:16px;color:#f2f2f2;left:2256.57px;top:282.66px;">X</span>
<div style="left:2305.5px;top:279px;width:1px;height:21px;background:#3c3c3c;"></div>
<span class="t" style="font-family:'DejaVu Sans Condensed', 'DejaVu Sans', sans-serif;font-size:16px;color:#f2f2f2;left:2346.1px;top:282.66px;">Y</span>
<div style="left:2394.5px;top:279px;width:1px;height:21px;background:#3c3c3c;"></div>
<span class="t" style="font-family:'DejaVu Sans Condensed', 'DejaVu Sans', sans-serif;font-size:16px;color:#f2f2f2;left:2434.57px;top:282.66px;">Z</span>
<div style="left:2483.5px;top:279px;width:1px;height:21px;background:#3c3c3c;"></div>
<span class="t" style="font-family:'DejaVu Sans Condensed', 'DejaVu Sans', sans-serif;font-size:16px;color:#f2f2f2;left:2518.43px;top:282.66px;">AA</span>
<div style="left:2572.5px;top:279px;width:1px;height:21px;background:#3c3c3c;"></div>
<span class="t" style="font-family:'DejaVu Sans Condensed', 'DejaVu Sans', sans-serif;font-size:16px;color:#f2f2f2;left:2607.64px;top:282.66px;">AB</span>
<div style="left:2661.5px;top:279px;width:1px;height:21px;background:#3c3c3c;"></div>
<span class="t" style="font-family:'DejaVu Sans Condensed', 'DejaVu Sans', sans-serif;font-size:16px;color:#f2f2f2;left:2696.69px;top:282.66px;">AC</span>
<div style="left:2750.5px;top:279px;width:1px;height:21px;background:#3c3c3c;"></div>
<span class="t" style="font-family:'DejaVu Sans Condensed', 'DejaVu Sans', sans-serif;font-size:16px;color:#f2f2f2;left:2785.03px;top:282.66px;">AD</span>
<div style="left:11px;top:300px;width:36px;height:1370px;overflow:hidden;background:#0a0a0a">
<div style="position:absolute;left:0;top:0;width:36px;height:35px;background:#6b6b6b;border-right:2px solid #1f7a4a;box-sizing:border-box"></div>
<div style="position:absolute;left:0;top:34.5px;width:36px;height:1px;background:#7a7a7a"></div>
<div style="position:absolute;left:0;top:65.5px;width:36px;height:1px;background:#7a7a7a"></div>
<div style="position:absolute;left:0;top:97.5px;width:36px;height:1px;background:#7a7a7a"></div>
<div style="position:absolute;left:0;top:121px;width:36px;height:1px;background:#7a7a7a"></div>
<div style="position:absolute;left:0;top:153.5px;width:36px;height:1px;background:#7a7a7a"></div>
<div style="position:absolute;left:0;top:184.53px;width:36px;height:1px;background:#7a7a7a"></div>
<div style="position:absolute;left:0;top:215.56px;width:36px;height:1px;background:#7a7a7a"></div>
<div style="position:absolute;left:0;top:246.59px;width:36px;height:1px;background:#7a7a7a"></div>
<div style="position:absolute;left:0;top:277.62px;width:36px;height:1px;background:#7a7a7a"></div>
<div style="position:absolute;left:0;top:308.65px;width:36px;height:1px;background:#7a7a7a"></div>
<div style="position:absolute;left:0;top:339.68px;width:36px;height:1px;background:#7a7a7a"></div>
<div style="position:absolute;left:0;top:370.71px;width:36px;height:1px;background:#7a7a7a"></div>
<div style="position:absolute;left:0;top:401.74px;width:36px;height:1px;background:#7a7a7a"></div>
<div style="position:absolute;left:0;top:432.77px;width:36px;height:1px;background:#7a7a7a"></div>
<div style="position:absolute;left:0;top:463.8px;width:36px;height:1px;background:#7a7a7a"></div>
<div style="position:absolute;left:0;top:494.83px;width:36px;height:1px;background:#7a7a7a"></div>
<div style="position:absolute;left:0;top:525.86px;width:36px;height:1px;background:#7a7a7a"></div>
<div style="position:absolute;left:0;top:556.89px;width:36px;height:1px;background:#7a7a7a"></div>
<div style="position:absolute;left:0;top:587.92px;width:36px;height:1px;background:#7a7a7a"></div>
<div style="position:absolute;left:0;top:618.95px;width:36px;height:1px;background:#7a7a7a"></div>
<div style="position:absolute;left:0;top:649.98px;width:36px;height:1px;background:#7a7a7a"></div>
<div style="position:absolute;left:0;top:681.01px;width:36px;height:1px;background:#7a7a7a"></div>
<div style="position:absolute;left:0;top:712.04px;width:36px;height:1px;background:#7a7a7a"></div>
<div style="position:absolute;left:0;top:743.07px;width:36px;height:1px;background:#7a7a7a"></div>
<div style="position:absolute;left:0;top:754.57px;width:36px;height:1px;background:#7a7a7a"></div>
<div style="position:absolute;left:0;top:785.6px;width:36px;height:1px;background:#7a7a7a"></div>
<div style="position:absolute;left:0;top:816.63px;width:36px;height:1px;background:#7a7a7a"></div>
<div style="position:absolute;left:0;top:847.66px;width:36px;height:1px;background:#7a7a7a"></div>
<div style="position:absolute;left:0;top:878.69px;width:36px;height:1px;background:#7a7a7a"></div>
<div style="position:absolute;left:0;top:909.72px;width:36px;height:1px;background:#7a7a7a"></div>
<div style="position:absolute;left:0;top:940.75px;width:36px;height:1px;background:#7a7a7a"></div>
<div style="position:absolute;left:0;top:971.78px;width:36px;height:1px;background:#7a7a7a"></div>
<div style="position:absolute;left:0;top:1002.81px;width:36px;height:1px;background:#7a7a7a"></div>
<div style="position:absolute;left:0;top:1033.84px;width:36px;height:1px;background:#7a7a7a"></div>
<div style="position:absolute;left:0;top:1064.87px;width:36px;height:1px;background:#7a7a7a"></div>
<div style="position:absolute;left:0;top:1095.9px;width:36px;height:1px;background:#7a7a7a"></div>
<div style="position:absolute;left:0;top:1126.93px;width:36px;height:1px;background:#7a7a7a"></div>
<div style="position:absolute;left:0;top:1157.96px;width:36px;height:1px;background:#7a7a7a"></div>
<div style="position:absolute;left:0;top:1188.99px;width:36px;height:1px;background:#7a7a7a"></div>
<div style="position:absolute;left:0;top:1220.02px;width:36px;height:1px;background:#7a7a7a"></div>
<div style="position:absolute;left:0;top:1251.05px;width:36px;height:1px;background:#7a7a7a"></div>
<div style="position:absolute;left:0;top:1282.08px;width:36px;height:1px;background:#7a7a7a"></div>
<div style="position:absolute;left:0;top:1313.11px;width:36px;height:1px;background:#7a7a7a"></div>
<div style="position:absolute;left:0;top:1344.14px;width:36px;height:1px;background:#7a7a7a"></div>
<div style="position:absolute;left:0;top:1355.64px;width:36px;height:1px;background:#7a7a7a"></div>
<div style="position:absolute;left:0;top:1386.64px;width:36px;height:1px;background:#7a7a7a"></div>
</div>
<span class="t" style="font-family:'DejaVu Sans Condensed', 'DejaVu Sans', sans-serif;font-size:16.5px;color:#f2f2f2;left:24.27px;top:317.34px;">1</span>
<span class="t" style="font-family:'DejaVu Sans Condensed', 'DejaVu Sans', sans-serif;font-size:16.5px;color:#f2f2f2;left:24.27px;top:348.34px;">2</span>
<span class="t" style="font-family:'DejaVu Sans Condensed', 'DejaVu Sans', sans-serif;font-size:16.5px;color:#f2f2f2;left:24.27px;top:380.34px;">3</span>
<span class="t" style="font-family:'DejaVu Sans Condensed', 'DejaVu Sans', sans-serif;font-size:16.5px;color:#f2f2f2;left:24.27px;top:403.84px;">4</span>
<span class="t" style="font-family:'DejaVu Sans Condensed', 'DejaVu Sans', sans-serif;font-size:16.5px;color:#f2f2f2;left:24.27px;top:434.24px;">5</span>
<span class="t" style="font-family:'DejaVu Sans Condensed', 'DejaVu Sans', sans-serif;font-size:16.5px;color:#f2f2f2;left:24.27px;top:467.37px;">6</span>
<span class="t" style="font-family:'DejaVu Sans Condensed', 'DejaVu Sans', sans-serif;font-size:16.5px;color:#f2f2f2;left:24.27px;top:498.4px;">7</span>
<span class="t" style="font-family:'DejaVu Sans Condensed', 'DejaVu Sans', sans-serif;font-size:16.5px;color:#f2f2f2;left:24.27px;top:529.43px;">8</span>
<span class="t" style="font-family:'DejaVu Sans Condensed', 'DejaVu Sans', sans-serif;font-size:16.5px;color:#f2f2f2;left:24.27px;top:560.46px;">9</span>
<span class="t" style="font-family:'DejaVu Sans Condensed', 'DejaVu Sans', sans-serif;font-size:16.5px;color:#f2f2f2;left:19.55px;top:591.49px;">10</span>
<span class="t" style="font-family:'DejaVu Sans Condensed', 'DejaVu Sans', sans-serif;font-size:16.5px;color:#f2f2f2;left:19.55px;top:622.52px;">11</span>
<span class="t" style="font-family:'DejaVu Sans Condensed', 'DejaVu Sans', sans-serif;font-size:16.5px;color:#f2f2f2;left:19.55px;top:653.55px;">12</span>
<span class="t" style="font-family:'DejaVu Sans Condensed', 'DejaVu Sans', sans-serif;font-size:16.5px;color:#f2f2f2;left:19.55px;top:684.58px;">13</span>
<span class="t" style="font-family:'DejaVu Sans Condensed', 'DejaVu Sans', sans-serif;font-size:16.5px;color:#f2f2f2;left:19.55px;top:715.61px;">14</span>
<span class="t" style="font-family:'DejaVu Sans Condensed', 'DejaVu Sans', sans-serif;font-size:16.5px;color:#f2f2f2;left:19.55px;top:746.64px;">15</span>
<span class="t" style="font-family:'DejaVu Sans Condensed', 'DejaVu Sans', sans-serif;font-size:16.5px;color:#f2f2f2;left:19.55px;top:777.67px;">16</span>
<span class="t" style="font-family:'DejaVu Sans Condensed', 'DejaVu Sans', sans-serif;font-size:16.5px;color:#f2f2f2;left:19.55px;top:808.7px;">17</span>
<span class="t" style="font-family:'DejaVu Sans Condensed', 'DejaVu Sans', sans-serif;font-size:16.5px;color:#f2f2f2;left:19.55px;top:839.73px;">18</span>
<span class="t" style="font-family:'DejaVu Sans Condensed', 'DejaVu Sans', sans-serif;font-size:16.5px;color:#f2f2f2;left:19.55px;top:870.76px;">19</span>
<span class="t" style="font-family:'DejaVu Sans Condensed', 'DejaVu Sans', sans-serif;font-size:16.5px;color:#f2f2f2;left:19.55px;top:901.79px;">20</span>
<span class="t" style="font-family:'DejaVu Sans Condensed', 'DejaVu Sans', sans-serif;font-size:16.5px;color:#f2f2f2;left:19.55px;top:932.82px;">21</span>
<span class="t" style="font-family:'DejaVu Sans Condensed', 'DejaVu Sans', sans-serif;font-size:16.5px;color:#f2f2f2;left:19.55px;top:963.85px;">22</span>
<span class="t" style="font-family:'DejaVu Sans Condensed', 'DejaVu Sans', sans-serif;font-size:16.5px;color:#f2f2f2;left:19.55px;top:994.88px;">23</span>
<span class="t" style="font-family:'DejaVu Sans Condensed', 'DejaVu Sans', sans-serif;font-size:16.5px;color:#f2f2f2;left:19.55px;top:1025.91px;">24</span>
<span class="t" style="font-family:'DejaVu Sans Condensed', 'DejaVu Sans', sans-serif;font-size:16.5px;color:#f2f2f2;left:19.55px;top:1068.44px;">26</span>
<span class="t" style="font-family:'DejaVu Sans Condensed', 'DejaVu Sans', sans-serif;font-size:16.5px;color:#f2f2f2;left:19.55px;top:1099.47px;">27</span>
<span class="t" style="font-family:'DejaVu Sans Condensed', 'DejaVu Sans', sans-serif;font-size:16.5px;color:#f2f2f2;left:19.55px;top:1130.5px;">28</span>
<span class="t" style="font-family:'DejaVu Sans Condensed', 'DejaVu Sans', sans-serif;font-size:16.5px;color:#f2f2f2;left:19.55px;top:1161.53px;">29</span>
<span class="t" style="font-family:'DejaVu Sans Condensed', 'DejaVu Sans', sans-serif;font-size:16.5px;color:#f2f2f2;left:19.55px;top:1192.56px;">30</span>
<span class="t" style="font-family:'DejaVu Sans Condensed', 'DejaVu Sans', sans-serif;font-size:16.5px;color:#f2f2f2;left:19.55px;top:1223.59px;">31</span>
<span class="t" style="font-family:'DejaVu Sans Condensed', 'DejaVu Sans', sans-serif;font-size:16.5px;color:#f2f2f2;left:19.55px;top:1254.62px;">32</span>
<span class="t" style="font-family:'DejaVu Sans Condensed', 'DejaVu Sans', sans-serif;font-size:16.5px;color:#f2f2f2;left:19.55px;top:1285.65px;">33</span>
<span class="t" style="font-family:'DejaVu Sans Condensed', 'DejaVu Sans', sans-serif;font-size:16.5px;color:#f2f2f2;left:19.55px;top:1316.68px;">34</span>
<span class="t" style="font-family:'DejaVu Sans Condensed', 'DejaVu Sans', sans-serif;font-size:16.5px;color:#f2f2f2;left:19.55px;top:1347.71px;">35</span>
<span class="t" style="font-family:'DejaVu Sans Condensed', 'DejaVu Sans', sans-serif;font-size:16.5px;color:#f2f2f2;left:19.55px;top:1378.74px;">36</span>
<span class="t" style="font-family:'DejaVu Sans Condensed', 'DejaVu Sans', sans-serif;font-size:16.5px;color:#f2f2f2;left:19.55px;top:1409.77px;">37</span>
<span class="t" style="font-family:'DejaVu Sans Condensed', 'DejaVu Sans', sans-serif;font-size:16.5px;color:#f2f2f2;left:19.55px;top:1440.8px;">38</span>
<span class="t" style="font-family:'DejaVu Sans Condensed', 'DejaVu Sans', sans-serif;font-size:16.5px;color:#f2f2f2;left:19.55px;top:1471.83px;">39</span>
<span class="t" style="font-family:'DejaVu Sans Condensed', 'DejaVu Sans', sans-serif;font-size:16.5px;color:#f2f2f2;left:19.55px;top:1502.86px;">40</span>
<span class="t" style="font-family:'DejaVu Sans Condensed', 'DejaVu Sans', sans-serif;font-size:16.5px;color:#f2f2f2;left:19.55px;top:1533.89px;">41</span>
<span class="t" style="font-family:'DejaVu Sans Condensed', 'DejaVu Sans', sans-serif;font-size:16.5px;color:#f2f2f2;left:19.55px;top:1564.92px;">42</span>
<span class="t" style="font-family:'DejaVu Sans Condensed', 'DejaVu Sans', sans-serif;font-size:16.5px;color:#f2f2f2;left:19.55px;top:1595.95px;">43</span>
<span class="t" style="font-family:'DejaVu Sans Condensed', 'DejaVu Sans', sans-serif;font-size:16.5px;color:#f2f2f2;left:19.55px;top:1626.98px;">44</span>
<div style="left:11px;top:1043.5px;width:36px;height:4.500px;overflow:hidden"><span class="t" style="position:absolute;left:8.500px;top:-11px;font-family:'DejaVu Sans Condensed',sans-serif;font-size:16.500px;color:#f2f2f2">25</span></div>
<div style="left:11px;top:1644px;width:36px;height:4.500px;overflow:hidden"><span class="t" style="position:absolute;left:8.500px;top:-11px;font-family:'DejaVu Sans Condensed',sans-serif;font-size:16.500px;color:#f2f2f2">45</span></div>
<div style="left:11px;top:1664px;width:36px;height:6px;overflow:hidden"><span class="t" style="position:absolute;left:8.500px;top:2.500px;font-family:'DejaVu Sans Condensed',sans-serif;font-size:16.500px;color:#f2f2f2">46</span></div>
</div>
<div class="sec" id="sheet">
<div style="left:47px;top:300px;width:2813px;height:1370px;background:#fff;"></div>
<span class="t" style="font-family:'DejaVu Sans Condensed', 'DejaVu Sans', sans-serif;font-size:29.5px;font-weight:bold;color:#222;left:76.5px;top:305.84px;transform:scaleX(1.0317);transform-origin:0 0;">Financial Charts</span>
<span class="t" style="font-family:'DejaVu Sans Condensed', 'DejaVu Sans', sans-serif;font-size:25px;font-weight:bold;color:#000;left:76px;top:339.45px;transform:scaleX(1.0507);transform-origin:0 0;">ABC Company Inc.</span>
<span class="t" style="font-family:'DejaVu Sans Condensed', 'DejaVu Sans', sans-serif;font-size:17px;font-weight:bold;color:#2b78ee;left:74.5px;top:374.72px;transform:scaleX(1.0367);transform-origin:0 0;">Go to Table of Contents</span>
<div style="left:74.5px;top:390.3px;width:209.5px;height:1.7px;background:#2b78ee;"></div>
<div style="left:47px;top:454px;width:2813px;height:1px;background:#b9b9b9;"></div>
<div style="left:70px;top:421px;width:1332px;height:33.4px;background:#4b4fd0;"></div>
<div style="left:1416px;top:421px;width:1425px;height:33.4px;background:#4b4fd0;"></div>
<span class="t" style="font-family:'DejaVu Sans', sans-serif;font-size:23.5px;font-weight:bold;color:#fff;left:683.5px;top:427.92px;transform:scaleX(0.9641);transform-origin:0 0;">10 years</span>
<span class="t" style="font-family:'DejaVu Sans', sans-serif;font-size:23.5px;font-weight:bold;color:#fff;left:2051px;top:427.92px;transform:scaleX(1.006);transform-origin:0 0;">120 months</span>
<div style="left:70px;top:455px;width:1332px;height:589px;background:#fff;"></div>
<div style="left:1416px;top:455px;width:1425px;height:589px;background:#fff;"></div>
<div style="left:1402px;top:421px;width:14.5px;height:1249px;background:#c0c0c0;"></div>
<div style="left:93.5px;top:1043px;width:2747.5px;height:11.7px;background:#c0c0c0;"></div>
<div style="left:93.5px;top:1643.2px;width:2747.5px;height:11.6px;background:#c0c0c0;"></div>
</div>
<div class="sec" id="scrollbar-v">
<div style="left:2860px;top:278px;width:31px;height:1392px;background:#0a0a0a;"></div>
<div style="left:2861px;top:279px;width:28px;height:1391px;background:#131313;border-radius:12px 12px 0 0;"></div>
<div style="left:2869.5px;top:304px;width:12.5px;height:661px;background:#9a9a9a;border-radius:6.500px;"></div>
<svg style="left:2866px;top:284px" width="20" height="14"><path d="M3 11.500 L10 2.500 L17 11.500 Z" fill="#9a9a9a" stroke="#9a9a9a" stroke-width="1.500" stroke-linejoin="round"/></svg>
<svg style="left:2866px;top:1652px" width="20" height="14"><path d="M3.500 3 L10 11 L16.500 3 Z" fill="#9a9a9a" stroke="#9a9a9a" stroke-width="1.500" stroke-linejoin="round"/></svg>
</div>
<div class="sec" id="charts">
<svg style="left:0;top:0;overflow:hidden" width="2860" height="1670"><g font-family="DejaVu Sans Condensed, DejaVu Sans, sans-serif" fill="#000">
<text x="326.5" y="497" font-size="34.5" font-weight="bold" stroke="#000" stroke-width="0.55" textLength="547.5" lengthAdjust="spacingAndGlyphs">REVENUE BREAKDOWN - $'000</text>
<rect x="100" y="536.2" width="9.500" height="9.500" fill="#4db2e8"/>
<text x="114.5" y="547.9" font-size="18" textLength="195" lengthAdjust="spacingAndGlyphs">Trinitario Premium Beans</text>
<rect x="335.5" y="536.2" width="9.500" height="9.500" fill="#4b4fd0"/>
<text x="348.5" y="547.9" font-size="18" textLength="175" lengthAdjust="spacingAndGlyphs">Criollo Premium Beans</text>
<rect x="549" y="536.2" width="9.500" height="9.500" fill="#f07d72"/>
<text x="562" y="547.9" font-size="18" textLength="186" lengthAdjust="spacingAndGlyphs">Heirloom Varietal Beans</text>
<rect x="772.5" y="536.2" width="9.500" height="9.500" fill="#f4b400"/>
<text x="787" y="547.9" font-size="18" textLength="141" lengthAdjust="spacingAndGlyphs">Classic Bulk Beans</text>
<rect x="954" y="536.2" width="9.500" height="9.500" fill="#2bb5a6"/>
<text x="968" y="547.9" font-size="18" textLength="164" lengthAdjust="spacingAndGlyphs">Organic Cacao Beans</text>
<rect x="1159" y="536.2" width="9.500" height="9.500" fill="#5b9b3d"/>
<text x="1171.5" y="547.9" font-size="18">-</text>
<rect x="1203.7" y="536.2" width="9.500" height="9.500" fill="#8aa2dc"/>
<text x="1216.2" y="547.9" font-size="18">-</text>
<rect x="1248.5" y="536.2" width="9.500" height="9.500" fill="#f2a488"/>
<text x="1261" y="547.9" font-size="18">-</text>
<rect x="1293.3" y="536.2" width="9.500" height="9.500" fill="#c2c2c2"/>
<text x="1305.8" y="547.9" font-size="18">-</text>
<rect x="1339" y="536.2" width="9.500" height="9.500" fill="#ffd27a"/>
<text x="1351.5" y="547.9" font-size="18">-</text>
<path d="M199.5 954.8 H1319.5" stroke="#64aad4" stroke-width="1" shape-rendering="crispEdges"/>
<path d="M199.5 916.87 H1319.5" stroke="#64aad4" stroke-width="1" shape-rendering="crispEdges"/>
<text x="174.5" y="923.87" font-size="19.5" text-anchor="end" font-weight="bold" stroke="#000" stroke-width="0.3">1,000</text>
<path d="M199.5 878.94 H1319.5" stroke="#64aad4" stroke-width="1" shape-rendering="crispEdges"/>
<text x="174.5" y="885.94" font-size="19.5" text-anchor="end" font-weight="bold" stroke="#000" stroke-width="0.3">2,000</text>
<path d="M199.5 841.01 H1319.5" stroke="#64aad4" stroke-width="1" shape-rendering="crispEdges"/>
<text x="174.5" y="848.01" font-size="19.5" text-anchor="end" font-weight="bold" stroke="#000" stroke-width="0.3">3,000</text>
<path d="M199.5 803.08 H1319.5" stroke="#64aad4" stroke-width="1" shape-rendering="crispEdges"/>
<text x="174.5" y="810.08" font-size="19.5" text-anchor="end" font-weight="bold" stroke="#000" stroke-width="0.3">4,000</text>
<path d="M199.5 765.15 H1319.5" stroke="#64aad4" stroke-width="1" shape-rendering="crispEdges"/>
<text x="174.5" y="772.15" font-size="19.5" text-anchor="end" font-weight="bold" stroke="#000" stroke-width="0.3">5,000</text>
<path d="M199.5 727.22 H1319.5" stroke="#64aad4" stroke-width="1" shape-rendering="crispEdges"/>
<text x="174.5" y="734.22" font-size="19.5" text-anchor="end" font-weight="bold" stroke="#000" stroke-width="0.3">6,000</text>
<path d="M199.5 689.29 H1319.5" stroke="#64aad4" stroke-width="1" shape-rendering="crispEdges"/>
<text x="174.5" y="696.29" font-size="19.5" text-anchor="end" font-weight="bold" stroke="#000" stroke-width="0.3">7,000</text>
<path d="M199.5 651.36 H1319.5" stroke="#64aad4" stroke-width="1" shape-rendering="crispEdges"/>
<text x="174.5" y="658.36" font-size="19.5" text-anchor="end" font-weight="bold" stroke="#000" stroke-width="0.3">8,000</text>
<path d="M199.5 613.43 H1319.5" stroke="#64aad4" stroke-width="1" shape-rendering="crispEdges"/>
<text x="174.5" y="620.43" font-size="19.5" text-anchor="end" font-weight="bold" stroke="#000" stroke-width="0.3">9,000</text>
<text x="156" y="961.8" font-size="19.5" font-weight="bold" stroke="#000" stroke-width="0.3">-</text>
<rect x="220.5" y="950.67" width="70" height="4.13" fill="#4db2e8"/>
<rect x="220.5" y="947.14" width="70" height="3.53" fill="#4b4fd0"/>
<rect x="220.5" y="944.18" width="70" height="2.96" fill="#f07d72"/>
<rect x="220.5" y="941.83" width="70" height="2.35" fill="#f4b400"/>
<rect x="220.5" y="940.65" width="70" height="1.18" fill="#2bb5a6"/>
<text x="255.5" y="1008" font-size="20" text-anchor="middle" font-weight="bold" stroke="#000" stroke-width="0.3">2026</text>
<rect x="332.5" y="948.31" width="70" height="6.49" fill="#4db2e8"/>
<rect x="332.5" y="941.26" width="70" height="7.05" fill="#4b4fd0"/>
<rect x="332.5" y="936.56" width="70" height="4.7" fill="#f07d72"/>
<rect x="332.5" y="931.25" width="70" height="5.31" fill="#f4b400"/>
<rect x="332.5" y="930.07" width="70" height="1.18" fill="#2bb5a6"/>
<text x="367.5" y="1008" font-size="20" text-anchor="middle" font-weight="bold" stroke="#000" stroke-width="0.3">2027</text>
<rect x="444.5" y="944.22" width="70" height="10.58" fill="#4db2e8"/>
<rect x="444.5" y="934.81" width="70" height="9.41" fill="#4b4fd0"/>
<rect x="444.5" y="927.15" width="70" height="7.66" fill="#f07d72"/>
<rect x="444.5" y="920.09" width="70" height="7.05" fill="#f4b400"/>
<rect x="444.5" y="917.74" width="70" height="2.35" fill="#2bb5a6"/>
<text x="479.5" y="1008" font-size="20" text-anchor="middle" font-weight="bold" stroke="#000" stroke-width="0.3">2028</text>
<rect x="556.5" y="940.08" width="70" height="14.72" fill="#4db2e8"/>
<rect x="556.5" y="927.15" width="70" height="12.93" fill="#4b4fd0"/>
<rect x="556.5" y="915.96" width="70" height="11.19" fill="#f07d72"/>
<rect x="556.5" y="907.12" width="70" height="8.84" fill="#f4b400"/>
<rect x="556.5" y="902.99" width="70" height="4.13" fill="#2bb5a6"/>
<text x="591.5" y="1008" font-size="20" text-anchor="middle" font-weight="bold" stroke="#000" stroke-width="0.3">2029</text>
<rect x="668.5" y="936.56" width="70" height="18.24" fill="#4db2e8"/>
<rect x="668.5" y="917.7" width="70" height="18.85" fill="#4b4fd0"/>
<rect x="668.5" y="902.99" width="70" height="14.72" fill="#f07d72"/>
<rect x="668.5" y="891.23" width="70" height="11.76" fill="#f4b400"/>
<rect x="668.5" y="885.92" width="70" height="5.31" fill="#2bb5a6"/>
<text x="703.5" y="1008" font-size="20" text-anchor="middle" font-weight="bold" stroke="#000" stroke-width="0.3">2030</text>
<rect x="780.5" y="927.15" width="70" height="27.65" fill="#4db2e8"/>
<rect x="780.5" y="901.85" width="70" height="25.3" fill="#4b4fd0"/>
<rect x="780.5" y="879.47" width="70" height="22.38" fill="#f07d72"/>
<rect x="780.5" y="861.8" width="70" height="17.68" fill="#f4b400"/>
<rect x="780.5" y="854.74" width="70" height="7.05" fill="#2bb5a6"/>
<text x="815.5" y="1008" font-size="20" text-anchor="middle" font-weight="bold" stroke="#000" stroke-width="0.3">2031</text>
<rect x="892.5" y="917.14" width="70" height="37.66" fill="#4db2e8"/>
<rect x="892.5" y="881.82" width="70" height="35.31" fill="#4b4fd0"/>
<rect x="892.5" y="851.21" width="70" height="30.61" fill="#f07d72"/>
<rect x="892.5" y="827.66" width="70" height="23.55" fill="#f4b400"/>
<rect x="892.5" y="818.82" width="70" height="8.84" fill="#2bb5a6"/>
<text x="927.5" y="1008" font-size="20" text-anchor="middle" font-weight="bold" stroke="#000" stroke-width="0.3">2032</text>
<rect x="1004.5" y="905.95" width="70" height="48.85" fill="#4db2e8"/>
<rect x="1004.5" y="860.05" width="70" height="45.9" fill="#4b4fd0"/>
<rect x="1004.5" y="818.25" width="70" height="41.8" fill="#f07d72"/>
<rect x="1004.5" y="788.82" width="70" height="29.43" fill="#f4b400"/>
<rect x="1004.5" y="777.06" width="70" height="11.76" fill="#2bb5a6"/>
<text x="1039.5" y="1008" font-size="20" text-anchor="middle" font-weight="bold" stroke="#000" stroke-width="0.3">2033</text>
<rect x="1116.5" y="891.23" width="70" height="63.57" fill="#4db2e8"/>
<rect x="1116.5" y="831.19" width="70" height="60.04" fill="#4b4fd0"/>
<rect x="1116.5" y="776.45" width="70" height="54.73" fill="#f07d72"/>
<rect x="1116.5" y="737.01" width="70" height="39.45" fill="#f4b400"/>
<rect x="1116.5" y="721.72" width="70" height="15.29" fill="#2bb5a6"/>
<text x="1151.5" y="1008" font-size="20" text-anchor="middle" font-weight="bold" stroke="#000" stroke-width="0.3">2034</text>
<rect x="1228.5" y="865.93" width="70" height="88.87" fill="#4db2e8"/>
<rect x="1228.5" y="782.37" width="70" height="83.56" fill="#4b4fd0"/>
<rect x="1228.5" y="705.26" width="70" height="77.11" fill="#f07d72"/>
<rect x="1228.5" y="652.27" width="70" height="52.99" fill="#f4b400"/>
<rect x="1228.5" y="631.07" width="70" height="21.2" fill="#2bb5a6"/>
<text x="1263.5" y="1008" font-size="20" text-anchor="middle" font-weight="bold" stroke="#000" stroke-width="0.3">2035</text>
<path d="M199.5 955.1 H1319.5" stroke="#4fa9dd" stroke-width="2"/>
<text x="1825" y="496.3" font-size="34.5" font-weight="bold" stroke="#000" stroke-width="0.55" textLength="548.5" lengthAdjust="spacingAndGlyphs">REVENUE BREAKDOWN - $'000</text>
<rect x="1447.5" y="525.6" width="9.500" height="9.500" fill="#4db2e8"/>
<text x="1461" y="537.3" font-size="18" textLength="195" lengthAdjust="spacingAndGlyphs">Trinitario Premium Beans</text>
<rect x="1675.5" y="525.6" width="9.500" height="9.500" fill="#4b4fd0"/>
<text x="1688.5" y="537.3" font-size="18" textLength="175" lengthAdjust="spacingAndGlyphs">Criollo Premium Beans</text>
<rect x="1881.5" y="525.6" width="9.500" height="9.500" fill="#f07d72"/>
<text x="1895" y="537.3" font-size="18" textLength="186" lengthAdjust="spacingAndGlyphs">Heirloom Varietal Beans</text>
<rect x="2100" y="525.6" width="9.500" height="9.500" fill="#f4b400"/>
<text x="2113" y="537.3" font-size="18" textLength="142" lengthAdjust="spacingAndGlyphs">Classic Bulk Beans</text>
<rect x="2274" y="525.6" width="9.500" height="9.500" fill="#2bb5a6"/>
<text x="2288" y="537.3" font-size="18" textLength="164" lengthAdjust="spacingAndGlyphs">Organic Cacao Beans</text>
<rect x="2471.5" y="525.6" width="9.500" height="9.500" fill="#5b9b3d"/>
<text x="2484" y="537.3" font-size="18">-</text>
<rect x="2510.5" y="525.6" width="9.500" height="9.500" fill="#8aa2dc"/>
<text x="2523" y="537.3" font-size="18">-</text>
<rect x="2549.5" y="525.6" width="9.500" height="9.500" fill="#f2a488"/>
<text x="2562" y="537.3" font-size="18">-</text>
<rect x="2588.7" y="525.6" width="9.500" height="9.500" fill="#c2c2c2"/>
<text x="2601.2" y="537.3" font-size="18">-</text>
<rect x="2627.7" y="525.6" width="9.500" height="9.500" fill="#ffd27a"/>
<text x="2640.2" y="537.3" font-size="18">-</text>
<path d="M1519 953.3 H2791.8" stroke="#64aad4" stroke-width="1" shape-rendering="crispEdges"/>
<path d="M1519 910.4 H2791.8" stroke="#64aad4" stroke-width="1" shape-rendering="crispEdges"/>
<text x="1494.5" y="917" font-size="19.5" text-anchor="end" font-weight="bold" stroke="#000" stroke-width="0.3">200</text>
<path d="M1519 867.2 H2791.8" stroke="#64aad4" stroke-width="1" shape-rendering="crispEdges"/>
<text x="1494.5" y="873.8" font-size="19.5" text-anchor="end" font-weight="bold" stroke="#000" stroke-width="0.3">400</text>
<path d="M1519 825 H2791.8" stroke="#64aad4" stroke-width="1" shape-rendering="crispEdges"/>
<text x="1494.5" y="831.6" font-size="19.5" text-anchor="end" font-weight="bold" stroke="#000" stroke-width="0.3">600</text>
<path d="M1519 782.1 H2791.8" stroke="#64aad4" stroke-width="1" shape-rendering="crispEdges"/>
<text x="1494.5" y="788.7" font-size="19.5" text-anchor="end" font-weight="bold" stroke="#000" stroke-width="0.3">800</text>
<path d="M1519 739.2 H2791.8" stroke="#64aad4" stroke-width="1" shape-rendering="crispEdges"/>
<text x="1494.5" y="745.8" font-size="19.5" text-anchor="end" font-weight="bold" stroke="#000" stroke-width="0.3">1,000</text>
<path d="M1519 697 H2791.8" stroke="#64aad4" stroke-width="1" shape-rendering="crispEdges"/>
<text x="1494.5" y="703.6" font-size="19.5" text-anchor="end" font-weight="bold" stroke="#000" stroke-width="0.3">1,200</text>
<path d="M1519 654.4 H2791.8" stroke="#64aad4" stroke-width="1" shape-rendering="crispEdges"/>
<text x="1494.5" y="661" font-size="19.5" text-anchor="end" font-weight="bold" stroke="#000" stroke-width="0.3">1,400</text>
<path d="M1519 612.3 H2791.8" stroke="#64aad4" stroke-width="1" shape-rendering="crispEdges"/>
<text x="1494.5" y="618.9" font-size="19.5" text-anchor="end" font-weight="bold" stroke="#000" stroke-width="0.3">1,600</text>
<text x="1475.5" y="960.3" font-size="19.5" font-weight="bold" stroke="#000" stroke-width="0.3">-</text>
<polygon points="1519,954.3 1519,952.87 1529.7,952.87 1540.39,952.92 1551.09,946.13 1561.78,939.87 1572.48,942.28 1583.17,946.2 1593.87,949.97 1604.57,952.02 1615.26,946.13 1625.96,939.87 1636.65,942.28 1647.35,946.2 1658.05,949.97 1668.74,951.59 1679.44,941.23 1690.13,930.71 1700.83,934.75 1711.52,941.36 1722.22,947.7 1732.92,951.15 1743.61,941.23 1754.31,930.71 1765,934.75 1775.7,941.36 1786.39,947.7 1797.09,950.64 1807.79,935.43 1818.48,919.84 1829.18,925.83 1839.87,935.61 1850.57,945 1861.27,950.12 1871.96,935.43 1882.66,919.84 1893.35,925.83 1904.05,935.61 1914.74,945 1925.44,949.57 1936.14,929.28 1946.83,908.33 1957.53,916.38 1968.22,929.53 1978.92,942.15 1989.62,949.03 2000.31,929.28 2011.01,908.33 2021.7,916.38 2032.4,929.53 2043.09,942.15 2053.79,948.3 2064.49,921.09 2075.18,892.98 2085.88,903.78 2096.57,921.41 2107.27,938.34 2117.96,947.57 2128.66,921.09 2139.36,892.98 2150.05,903.78 2160.75,921.41 2171.44,938.34 2182.14,946.24 2192.84,906.18 2203.53,865.06 2214.23,880.86 2224.92,906.65 2235.62,931.42 2246.31,944.92 2257.01,906.18 2267.71,865.06 2278.4,880.86 2289.1,906.65 2299.79,931.42 2310.49,943.31 2321.18,888.08 2331.88,831.17 2342.58,853.04 2353.27,888.74 2363.97,923.01 2374.66,941.7 2385.36,888.08 2396.06,831.17 2406.75,853.04 2417.45,888.74 2428.14,923.01 2438.84,939.93 2449.53,868.16 2460.23,793.86 2470.93,822.42 2481.62,869.02 2492.32,913.76 2503.01,938.15 2513.71,868.16 2524.41,793.86 2535.1,822.42 2545.8,869.02 2556.49,913.76 2567.19,935.79 2577.88,841.64 2588.58,744.2 2599.28,781.65 2609.97,842.77 2620.67,901.44 2631.36,933.44 2642.06,841.64 2652.75,744.2 2663.45,781.65 2674.15,842.77 2684.84,901.44 2695.54,929.44 2706.23,796.68 2716.93,660.01 2727.63,712.53 2738.32,798.26 2749.02,880.56 2759.71,925.44 2770.41,796.68 2781.1,660.01 2791.8,712.53 2791.8,954.3" fill="#2bb5a6"/>
<polygon points="1519,954.3 1519,952.87 1529.7,952.87 1540.39,952.97 1551.09,946.49 1561.78,940.19 1572.48,942.52 1583.17,946.44 1593.87,950.17 1604.57,952.2 1615.26,946.49 1625.96,940.19 1636.65,942.52 1647.35,946.44 1658.05,950.17 1668.74,951.82 1679.44,941.84 1690.13,931.24 1700.83,935.16 1711.52,941.76 1722.22,948.04 1732.92,951.45 1743.61,941.84 1754.31,931.24 1765,935.16 1775.7,941.76 1786.39,948.04 1797.09,951 1807.79,936.33 1818.48,920.63 1829.18,926.43 1839.87,936.21 1850.57,945.5 1861.27,950.56 1871.96,936.33 1882.66,920.63 1893.35,926.43 1904.05,936.21 1914.74,945.5 1925.44,950.08 1936.14,930.5 1946.83,909.39 1957.53,917.19 1968.22,930.34 1978.92,942.82 1989.62,949.61 2000.31,930.5 2011.01,909.39 2021.7,917.19 2032.4,930.34 2043.09,942.82 2053.79,948.98 2064.49,922.72 2075.18,894.4 2085.88,904.87 2096.57,922.5 2107.27,939.25 2117.96,948.35 2128.66,922.72 2139.36,894.4 2150.05,904.87 2160.75,922.5 2171.44,939.25 2182.14,947.21 2192.84,908.56 2203.53,867.14 2214.23,882.45 2224.92,908.24 2235.62,932.74 2246.31,946.06 2257.01,908.56 2267.71,867.14 2278.4,882.45 2289.1,908.24 2299.79,932.74 2310.49,944.67 2321.18,891.38 2331.88,834.05 2342.58,855.24 2353.27,890.94 2363.97,924.84 2374.66,943.28 2385.36,891.38 2396.06,834.05 2406.75,855.24 2417.45,890.94 2428.14,924.84 2438.84,941.76 2449.53,872.47 2460.23,797.63 2470.93,825.29 2481.62,871.89 2492.32,916.15 2503.01,940.23 2513.71,872.47 2524.41,797.63 2535.1,825.29 2545.8,871.89 2556.49,916.15 2567.19,938.19 2577.88,847.29 2588.58,749.13 2599.28,785.41 2609.97,846.53 2620.67,904.58 2631.36,936.15 2642.06,847.29 2652.75,749.13 2663.45,785.41 2674.15,846.53 2684.84,904.58 2695.54,932.7 2706.23,804.6 2716.93,666.93 2727.63,717.81 2738.32,803.54 2749.02,884.96 2759.71,929.25 2770.41,804.6 2781.1,666.93 2791.8,717.81 2791.8,954.3" fill="#f4b400"/>
<polygon points="1519,954.3 1519,952.87 1529.7,952.87 1540.39,953.3 1551.09,947.54 1561.78,941.77 1572.48,943.97 1583.17,947.49 1593.87,951.25 1604.57,953.3 1615.26,947.54 1625.96,941.77 1636.65,943.97 1647.35,947.49 1658.05,951.25 1668.74,953.3 1679.44,943.61 1690.13,933.91 1700.83,937.6 1711.52,943.53 1722.22,949.84 1732.92,953.3 1743.61,943.61 1754.31,933.91 1765,937.6 1775.7,943.53 1786.39,949.84 1797.09,953.3 1807.79,938.94 1818.48,924.57 1829.18,930.05 1839.87,938.82 1850.57,948.18 1861.27,953.3 1871.96,938.94 1882.66,924.57 1893.35,930.05 1904.05,938.82 1914.74,948.18 1925.44,953.3 1936.14,934.01 1946.83,914.69 1957.53,922.05 1968.22,933.84 1978.92,946.42 1989.62,953.3 2000.31,934.01 2011.01,914.69 2021.7,922.05 2032.4,933.84 2043.09,946.42 2053.79,953.3 2064.49,927.42 2075.18,901.52 2085.88,911.38 2096.57,927.2 2107.27,944.07 2117.96,953.3 2128.66,927.42 2139.36,901.52 2150.05,911.38 2160.75,927.2 2171.44,944.07 2182.14,953.3 2192.84,915.44 2203.53,877.55 2214.23,891.98 2224.92,915.13 2235.62,939.8 2246.31,953.3 2257.01,915.44 2267.71,877.55 2278.4,891.98 2289.1,915.13 2299.79,939.8 2310.49,953.3 2321.18,900.9 2331.88,848.46 2342.58,868.43 2353.27,900.46 2363.97,934.61 2374.66,953.3 2385.36,900.9 2396.06,848.46 2406.75,868.43 2417.45,900.46 2428.14,934.61 2438.84,953.3 2449.53,884.9 2460.23,816.44 2470.93,842.51 2481.62,884.33 2492.32,928.91 2503.01,953.3 2513.71,884.9 2524.41,816.44 2535.1,842.51 2545.8,884.33 2556.49,928.91 2567.19,953.3 2577.88,863.6 2588.58,773.81 2599.28,808 2609.97,862.84 2620.67,921.31 2631.36,953.3 2642.06,863.6 2652.75,773.81 2663.45,808 2674.15,862.84 2684.84,921.31 2695.54,953.3 2706.23,827.48 2716.93,701.54 2727.63,749.49 2738.32,826.42 2749.02,908.43 2759.71,953.3 2770.41,827.48 2781.1,701.54 2791.8,749.49 2791.8,954.3" fill="#f07d72"/>
<polygon points="1519,954.3 1519,952.87 1529.7,952.87 1540.39,953.3 1551.09,949.96 1561.78,946.6 1572.48,946.6 1583.17,948.43 1593.87,951.38 1604.57,953.3 1615.26,949.96 1625.96,946.6 1636.65,946.6 1647.35,948.43 1658.05,951.38 1668.74,953.3 1679.44,947.67 1690.13,942.03 1700.83,942.03 1711.52,945.11 1722.22,950.07 1732.92,953.3 1743.61,947.67 1754.31,942.03 1765,942.03 1775.7,945.11 1786.39,950.07 1797.09,953.3 1807.79,944.97 1818.48,936.6 1829.18,936.6 1839.87,941.17 1850.57,948.51 1861.27,953.3 1871.96,944.97 1882.66,936.6 1893.35,936.6 1904.05,941.17 1914.74,948.51 1925.44,953.3 1936.14,942.1 1946.83,930.86 1957.53,930.86 1968.22,936.99 1978.92,946.87 1989.62,953.3 2000.31,942.1 2011.01,930.86 2021.7,930.86 2032.4,936.99 2043.09,946.87 2053.79,953.3 2064.49,938.28 2075.18,923.21 2085.88,923.21 2096.57,931.43 2107.27,944.67 2117.96,953.3 2128.66,938.28 2139.36,923.21 2150.05,923.21 2160.75,931.43 2171.44,944.67 2182.14,953.3 2192.84,931.33 2203.53,909.28 2214.23,909.28 2224.92,921.3 2235.62,940.68 2246.31,953.3 2257.01,931.33 2267.71,909.28 2278.4,909.28 2289.1,921.3 2299.79,940.68 2310.49,953.3 2321.18,922.89 2331.88,892.37 2342.58,892.37 2353.27,909.01 2363.97,935.83 2374.66,953.3 2385.36,922.89 2396.06,892.37 2406.75,892.37 2417.45,909.01 2428.14,935.83 2438.84,953.3 2449.53,913.6 2460.23,873.76 2470.93,873.76 2481.62,895.49 2492.32,930.5 2503.01,953.3 2513.71,913.6 2524.41,873.76 2535.1,873.76 2545.8,895.49 2556.49,930.5 2567.19,953.3 2577.88,901.23 2588.58,848.98 2599.28,848.98 2609.97,877.48 2620.67,923.4 2631.36,953.3 2642.06,901.23 2652.75,848.98 2663.45,848.98 2674.15,877.48 2684.84,923.4 2695.54,953.3 2706.23,880.27 2716.93,806.98 2727.63,806.98 2738.32,846.95 2749.02,911.36 2759.71,953.3 2770.41,880.27 2781.1,806.98 2791.8,806.98 2791.8,954.3" fill="#4b4fd0"/>
<polygon points="1519,954.3 1519,952.87 1529.7,952.87 1540.39,953.3 1551.09,951.78 1561.78,950.26 1572.48,950.26 1583.17,950.26 1593.87,951.78 1604.57,953.3 1615.26,951.78 1625.96,950.26 1636.65,950.26 1647.35,950.26 1658.05,951.78 1668.74,953.3 1679.44,950.75 1690.13,948.18 1700.83,948.18 1711.52,948.18 1722.22,950.75 1732.92,953.3 1743.61,950.75 1754.31,948.18 1765,948.18 1775.7,948.18 1786.39,950.75 1797.09,953.3 1807.79,949.52 1818.48,945.72 1829.18,945.72 1839.87,945.72 1850.57,949.52 1861.27,953.3 1871.96,949.52 1882.66,945.72 1893.35,945.72 1904.05,945.72 1914.74,949.52 1925.44,953.3 1936.14,948.22 1946.83,943.11 1957.53,943.11 1968.22,943.11 1978.92,948.22 1989.62,953.3 2000.31,948.22 2011.01,943.11 2021.7,943.11 2032.4,943.11 2043.09,948.22 2053.79,953.3 2064.49,946.48 2075.18,939.63 2085.88,939.63 2096.57,939.63 2107.27,946.48 2117.96,953.3 2128.66,946.48 2139.36,939.63 2150.05,939.63 2160.75,939.63 2171.44,946.48 2182.14,953.3 2192.84,943.33 2203.53,933.3 2214.23,933.3 2224.92,933.3 2235.62,943.33 2246.31,953.3 2257.01,943.33 2267.71,933.3 2278.4,933.3 2289.1,933.3 2299.79,943.33 2310.49,953.3 2321.18,939.5 2331.88,925.62 2342.58,925.62 2353.27,925.62 2363.97,939.5 2374.66,953.3 2385.36,939.5 2396.06,925.62 2406.75,925.62 2417.45,925.62 2428.14,939.5 2438.84,953.3 2449.53,935.28 2460.23,917.17 2470.93,917.17 2481.62,917.17 2492.32,935.28 2503.01,953.3 2513.71,935.28 2524.41,917.17 2535.1,917.17 2545.8,917.17 2556.49,935.28 2567.19,953.3 2577.88,929.67 2588.58,905.92 2599.28,905.92 2609.97,905.92 2620.67,929.67 2631.36,953.3 2642.06,929.67 2652.75,905.92 2663.45,905.92 2674.15,905.92 2684.84,929.67 2695.54,953.3 2706.23,920.16 2716.93,886.84 2727.63,886.84 2738.32,886.84 2749.02,920.16 2759.71,953.3 2770.41,920.16 2781.1,886.84 2791.8,886.84 2791.8,954.3" fill="#4db2e8"/>
<text transform="translate(1524.5,977.5) rotate(-45)" font-size="19.5" text-anchor="end">Jan-26</text>
<text transform="translate(1567.28,977.5) rotate(-45)" font-size="19.5" text-anchor="end">May-26</text>
<text transform="translate(1610.07,977.5) rotate(-45)" font-size="19.5" text-anchor="end">Sep-26</text>
<text transform="translate(1652.85,977.5) rotate(-45)" font-size="19.5" text-anchor="end">Jan-27</text>
<text transform="translate(1695.63,977.5) rotate(-45)" font-size="19.5" text-anchor="end">May-27</text>
<text transform="translate(1738.42,977.5) rotate(-45)" font-size="19.5" text-anchor="end">Sep-27</text>
<text transform="translate(1781.2,977.5) rotate(-45)" font-size="19.5" text-anchor="end">Jan-28</text>
<text transform="translate(1823.98,977.5) rotate(-45)" font-size="19.5" text-anchor="end">May-28</text>
<text transform="translate(1866.77,977.5) rotate(-45)" font-size="19.5" text-anchor="end">Sep-28</text>
<text transform="translate(1909.55,977.5) rotate(-45)" font-size="19.5" text-anchor="end">Jan-29</text>
<text transform="translate(1952.33,977.5) rotate(-45)" font-size="19.5" text-anchor="end">May-29</text>
<text transform="translate(1995.12,977.5) rotate(-45)" font-size="19.5" text-anchor="end">Sep-29</text>
<text transform="translate(2037.9,977.5) rotate(-45)" font-size="19.5" text-anchor="end">Jan-30</text>
<text transform="translate(2080.68,977.5) rotate(-45)" font-size="19.5" text-anchor="end">May-30</text>
<text transform="translate(2123.46,977.5) rotate(-45)" font-size="19.5" text-anchor="end">Sep-30</text>
<text transform="translate(2166.25,977.5) rotate(-45)" font-size="19.5" text-anchor="end">Jan-31</text>
<text transform="translate(2209.03,977.5) rotate(-45)" font-size="19.5" text-anchor="end">May-31</text>
<text transform="translate(2251.81,977.5) rotate(-45)" font-size="19.5" text-anchor="end">Sep-31</text>
<text transform="translate(2294.6,977.5) rotate(-45)" font-size="19.5" text-anchor="end">Jan-32</text>
<text transform="translate(2337.38,977.5) rotate(-45)" font-size="19.5" text-anchor="end">May-32</text>
<text transform="translate(2380.16,977.5) rotate(-45)" font-size="19.5" text-anchor="end">Sep-32</text>
<text transform="translate(2422.95,977.5) rotate(-45)" font-size="19.5" text-anchor="end">Jan-33</text>
<text transform="translate(2465.73,977.5) rotate(-45)" font-size="19.5" text-anchor="end">May-33</text>
<text transform="translate(2508.51,977.5) rotate(-45)" font-size="19.5" text-anchor="end">Sep-33</text>
<text transform="translate(2551.3,977.5) rotate(-45)" font-size="19.5" text-anchor="end">Jan-34</text>
<text transform="translate(2594.08,977.5) rotate(-45)" font-size="19.5" text-anchor="end">May-34</text>
<text transform="translate(2636.86,977.5) rotate(-45)" font-size="19.5" text-anchor="end">Sep-34</text>
<text transform="translate(2679.65,977.5) rotate(-45)" font-size="19.5" text-anchor="end">Jan-35</text>
<text transform="translate(2722.43,977.5) rotate(-45)" font-size="19.5" text-anchor="end">May-35</text>
<text transform="translate(2765.21,977.5) rotate(-45)" font-size="19.5" text-anchor="end">Sep-35</text>
<text x="442.8" y="1097.7" font-size="34.5" font-weight="bold" stroke="#000" stroke-width="0.55" textLength="415.5" lengthAdjust="spacingAndGlyphs">CASH BALANCE - $'000</text>
<path d="M185.4 1144.22 H1315.5" stroke="#64aad4" stroke-width="1" shape-rendering="crispEdges"/>
<text x="161.3" y="1151.22" font-size="19.5" text-anchor="end" font-weight="bold" stroke="#000" stroke-width="0.3">3,000</text>
<path d="M185.4 1203.08 H1315.5" stroke="#64aad4" stroke-width="1" shape-rendering="crispEdges"/>
<text x="161.3" y="1210.08" font-size="19.5" text-anchor="end" font-weight="bold" stroke="#000" stroke-width="0.3">2,000</text>
<path d="M185.4 1261.94 H1315.5" stroke="#64aad4" stroke-width="1" shape-rendering="crispEdges"/>
<text x="161.3" y="1268.94" font-size="19.5" text-anchor="end" font-weight="bold" stroke="#000" stroke-width="0.3">1,000</text>
<path d="M185.4 1379.66 H1315.5" stroke="#64aad4" stroke-width="1" shape-rendering="crispEdges"/>
<text x="166.6" y="1386.66" font-size="19.5" text-anchor="end" font-weight="bold" stroke="#000" stroke-width="0.3">(1,000)</text>
<path d="M185.4 1438.52 H1315.5" stroke="#64aad4" stroke-width="1" shape-rendering="crispEdges"/>
<text x="166.6" y="1445.52" font-size="19.5" text-anchor="end" font-weight="bold" stroke="#000" stroke-width="0.3">(2,000)</text>
<path d="M185.4 1497.38 H1315.5" stroke="#64aad4" stroke-width="1" shape-rendering="crispEdges"/>
<text x="166.6" y="1504.38" font-size="19.5" text-anchor="end" font-weight="bold" stroke="#000" stroke-width="0.3">(3,000)</text>
<path d="M185.4 1556.24 H1315.5" stroke="#64aad4" stroke-width="1" shape-rendering="crispEdges"/>
<text x="166.6" y="1563.24" font-size="19.5" text-anchor="end" font-weight="bold" stroke="#000" stroke-width="0.3">(4,000)</text>
<text x="142.5" y="1326.8" font-size="19.5" font-weight="bold" stroke="#000" stroke-width="0.3">-</text>
<rect x="206.9" y="1320.8" width="70" height="58.86" fill="#4db2e8"/>
<text x="241.91" y="1608.5" font-size="20" text-anchor="middle" font-weight="bold" stroke="#000" stroke-width="0.3">2026</text>
<rect x="319.91" y="1320.8" width="70" height="94.76" fill="#4db2e8"/>
<text x="354.91" y="1608.5" font-size="20" text-anchor="middle" font-weight="bold" stroke="#000" stroke-width="0.3">2027</text>
<rect x="432.92" y="1320.8" width="70" height="127.73" fill="#4db2e8"/>
<text x="467.92" y="1608.5" font-size="20" text-anchor="middle" font-weight="bold" stroke="#000" stroke-width="0.3">2028</text>
<rect x="545.93" y="1320.8" width="70" height="150.68" fill="#4db2e8"/>
<text x="580.93" y="1608.5" font-size="20" text-anchor="middle" font-weight="bold" stroke="#000" stroke-width="0.3">2029</text>
<rect x="658.94" y="1320.8" width="70" height="165.99" fill="#4db2e8"/>
<text x="693.94" y="1608.5" font-size="20" text-anchor="middle" font-weight="bold" stroke="#000" stroke-width="0.3">2030</text>
<rect x="771.95" y="1320.8" width="70" height="163.63" fill="#4db2e8"/>
<text x="806.95" y="1608.5" font-size="20" text-anchor="middle" font-weight="bold" stroke="#000" stroke-width="0.3">2031</text>
<rect x="884.96" y="1320.8" width="70" height="141.85" fill="#4db2e8"/>
<text x="919.96" y="1608.5" font-size="20" text-anchor="middle" font-weight="bold" stroke="#000" stroke-width="0.3">2032</text>
<rect x="997.97" y="1320.8" width="70" height="93.59" fill="#4db2e8"/>
<text x="1032.97" y="1608.5" font-size="20" text-anchor="middle" font-weight="bold" stroke="#000" stroke-width="0.3">2033</text>
<rect x="1110.98" y="1320.8" width="70" height="8.83" fill="#4db2e8"/>
<text x="1145.99" y="1608.5" font-size="20" text-anchor="middle" font-weight="bold" stroke="#000" stroke-width="0.3">2034</text>
<rect x="1223.99" y="1181.89" width="70" height="138.91" fill="#4db2e8"/>
<text x="1258.99" y="1608.5" font-size="20" text-anchor="middle" font-weight="bold" stroke="#000" stroke-width="0.3">2035</text>
<path d="M184.6 1320.8 H1316.3 M185.4 1320.8 v6 M298.41 1320.8 v6 M411.42 1320.8 v6 M524.43 1320.8 v6 M637.44 1320.8 v6 M750.45 1320.8 v6 M863.46 1320.8 v6 M976.47 1320.8 v6 M1089.48 1320.8 v6 M1202.49 1320.8 v6 M1315.5 1320.8 v6 M241.91 1320.8 v3 M354.91 1320.8 v3 M467.92 1320.8 v3 M580.93 1320.8 v3 M693.94 1320.8 v3 M806.95 1320.8 v3 M919.96 1320.8 v3 M1032.97 1320.8 v3 M1145.99 1320.8 v3 M1258.99 1320.8 v3" stroke="#3f62b5" stroke-width="1.800" fill="none"/>
<text x="1907" y="1094.3" font-size="34.5" font-weight="bold" stroke="#000" stroke-width="0.55" textLength="414.5" lengthAdjust="spacingAndGlyphs">CASH BALANCE - $'000</text>
<path d="M1530 1147.22 H2791.6" stroke="#64aad4" stroke-width="1" shape-rendering="crispEdges"/>
<text x="1506" y="1154.22" font-size="19.5" text-anchor="end" font-weight="bold" stroke="#000" stroke-width="0.3">3,000</text>
<path d="M1530 1205.48 H2791.6" stroke="#64aad4" stroke-width="1" shape-rendering="crispEdges"/>
<text x="1506" y="1212.48" font-size="19.5" text-anchor="end" font-weight="bold" stroke="#000" stroke-width="0.3">2,000</text>
<path d="M1530 1263.74 H2791.6" stroke="#64aad4" stroke-width="1" shape-rendering="crispEdges"/>
<text x="1506" y="1270.74" font-size="19.5" text-anchor="end" font-weight="bold" stroke="#000" stroke-width="0.3">1,000</text>
<path d="M1530 1380.26 H2791.6" stroke="#64aad4" stroke-width="1" shape-rendering="crispEdges"/>
<text x="1511.5" y="1387.26" font-size="19.5" text-anchor="end" font-weight="bold" stroke="#000" stroke-width="0.3">(1,000)</text>
<path d="M1530 1438.52 H2791.6" stroke="#64aad4" stroke-width="1" shape-rendering="crispEdges"/>
<text x="1511.5" y="1445.52" font-size="19.5" text-anchor="end" font-weight="bold" stroke="#000" stroke-width="0.3">(2,000)</text>
<path d="M1530 1496.78 H2791.6" stroke="#64aad4" stroke-width="1" shape-rendering="crispEdges"/>
<text x="1511.5" y="1503.78" font-size="19.5" text-anchor="end" font-weight="bold" stroke="#000" stroke-width="0.3">(3,000)</text>
<path d="M1530 1555.04 H2791.6" stroke="#64aad4" stroke-width="1" shape-rendering="crispEdges"/>
<text x="1511.5" y="1562.04" font-size="19.5" text-anchor="end" font-weight="bold" stroke="#000" stroke-width="0.3">(4,000)</text>
<text x="1487" y="1328" font-size="19.5" font-weight="bold" stroke="#000" stroke-width="0.3">-</text>
<polygon points="1530,1322 1530,1279.18 1540.6,1289.9 1551.2,1296.54 1561.81,1309.42 1572.41,1321.48 1583.01,1333.54 1593.61,1344.2 1604.21,1354.92 1614.81,1363.77 1625.42,1370.18 1636.02,1375.54 1646.62,1380.38 1657.22,1384.4 1667.82,1388.94 1678.42,1393.78 1689.03,1398.03 1699.63,1399.08 1710.23,1400.18 1720.83,1402.34 1731.43,1405.25 1742.03,1410.38 1752.64,1414.11 1763.24,1415.16 1773.84,1416.5 1784.44,1421.33 1795.04,1425.88 1805.64,1430.71 1816.25,1433.92 1826.85,1434.97 1837.45,1435.26 1848.05,1436.6 1858.65,1439.28 1869.25,1444.11 1879.86,1448.07 1890.46,1449.18 1901.06,1448.07 1911.66,1453.2 1922.26,1457.45 1932.86,1463.34 1943.47,1467.13 1954.07,1466.02 1964.67,1464.15 1975.27,1464.15 1985.87,1466.6 1996.47,1471.38 2007.08,1475.17 2017.68,1474.87 2028.28,1472.49 2038.88,1477.26 2049.48,1480.76 2060.08,1487.46 2070.69,1491.19 2081.29,1487.98 2091.89,1483.96 2102.49,1482.39 2113.09,1485.59 2123.69,1490.14 2134.3,1493.87 2144.9,1492.29 2155.5,1487.46 2166.1,1492.29 2176.7,1496.02 2187.3,1502.2 2197.91,1506.74 2208.51,1503.01 2219.11,1493.34 2229.71,1488.51 2240.31,1490.43 2250.91,1496.31 2261.52,1499.23 2272.12,1494.16 2282.72,1485.3 2293.32,1488.27 2303.92,1491.48 2314.52,1498.99 2325.13,1503.01 2335.73,1495.5 2346.33,1482.91 2356.93,1474.35 2367.53,1475.4 2378.13,1481.05 2388.74,1483.96 2399.34,1477.55 2409.94,1463.34 2420.54,1461.24 2431.14,1463.63 2441.74,1471.15 2452.35,1474.87 2462.95,1464.15 2473.55,1447.84 2484.15,1435.26 2494.75,1434.44 2505.35,1440.62 2515.96,1444.11 2526.56,1432.58 2537.16,1415.68 2547.76,1412.77 2558.36,1412.48 2568.96,1421.33 2579.57,1424.01 2590.17,1408.46 2600.77,1384.4 2611.37,1367.27 2621.97,1363.48 2632.57,1369.37 2643.18,1372.05 2653.78,1357.6 2664.38,1331.61 2674.98,1328.7 2685.58,1326.54 2696.18,1335.4 2706.79,1337.26 2717.39,1314.78 2727.99,1276.5 2738.59,1250.51 2749.19,1241.95 2759.79,1245.68 2770.4,1246.5 2781,1224.53 2791.6,1184.91 2791.6,1322" fill="#4db2e8"/>
<path d="M1529.2 1322 H2792.4 M1530 1322 v7 M1540.6 1322 v4.5 M1551.2 1322 v4.5 M1561.81 1322 v7 M1572.41 1322 v4.5 M1583.01 1322 v4.5 M1593.61 1322 v7 M1604.21 1322 v4.5 M1614.81 1322 v4.5 M1625.42 1322 v7 M1636.02 1322 v4.5 M1646.62 1322 v4.5 M1657.22 1322 v7 M1667.82 1322 v4.5 M1678.42 1322 v4.5 M1689.03 1322 v7 M1699.63 1322 v4.5 M1710.23 1322 v4.5 M1720.83 1322 v7 M1731.43 1322 v4.5 M1742.03 1322 v4.5 M1752.64 1322 v7 M1763.24 1322 v4.5 M1773.84 1322 v4.5 M1784.44 1322 v7 M1795.04 1322 v4.5 M1805.64 1322 v4.5 M1816.25 1322 v7 M1826.85 1322 v4.5 M1837.45 1322 v4.5 M1848.05 1322 v7 M1858.65 1322 v4.5 M1869.25 1322 v4.5 M1879.86 1322 v7 M1890.46 1322 v4.5 M1901.06 1322 v4.5 M1911.66 1322 v7 M1922.26 1322 v4.5 M1932.86 1322 v4.5 M1943.47 1322 v7 M1954.07 1322 v4.5 M1964.67 1322 v4.5 M1975.27 1322 v7 M1985.87 1322 v4.5 M1996.47 1322 v4.5 M2007.08 1322 v7 M2017.68 1322 v4.5 M2028.28 1322 v4.5 M2038.88 1322 v7 M2049.48 1322 v4.5 M2060.08 1322 v4.5 M2070.69 1322 v7 M2081.29 1322 v4.5 M2091.89 1322 v4.5 M2102.49 1322 v7 M2113.09 1322 v4.5 M2123.69 1322 v4.5 M2134.3 1322 v7 M2144.9 1322 v4.5 M2155.5 1322 v4.5 M2166.1 1322 v7 M2176.7 1322 v4.5 M2187.3 1322 v4.5 M2197.91 1322 v7 M2208.51 1322 v4.5 M2219.11 1322 v4.5 M2229.71 1322 v7 M2240.31 1322 v4.5 M2250.91 1322 v4.5 M2261.52 1322 v7 M2272.12 1322 v4.5 M2282.72 1322 v4.5 M2293.32 1322 v7 M2303.92 1322 v4.5 M2314.52 1322 v4.5 M2325.13 1322 v7 M2335.73 1322 v4.5 M2346.33 1322 v4.5 M2356.93 1322 v7 M2367.53 1322 v4.5 M2378.13 1322 v4.5 M2388.74 1322 v7 M2399.34 1322 v4.5 M2409.94 1322 v4.5 M2420.54 1322 v7 M2431.14 1322 v4.5 M2441.74 1322 v4.5 M2452.35 1322 v7 M2462.95 1322 v4.5 M2473.55 1322 v4.5 M2484.15 1322 v7 M2494.75 1322 v4.5 M2505.35 1322 v4.5 M2515.96 1322 v7 M2526.56 1322 v4.5 M2537.16 1322 v4.5 M2547.76 1322 v7 M2558.36 1322 v4.5 M2568.96 1322 v4.5 M2579.57 1322 v7 M2590.17 1322 v4.5 M2600.77 1322 v4.5 M2611.37 1322 v7 M2621.97 1322 v4.5 M2632.57 1322 v4.5 M2643.18 1322 v7 M2653.78 1322 v4.5 M2664.38 1322 v4.5 M2674.98 1322 v7 M2685.58 1322 v4.5 M2696.18 1322 v4.5 M2706.79 1322 v7 M2717.39 1322 v4.5 M2727.99 1322 v4.5 M2738.59 1322 v7 M2749.19 1322 v4.5 M2759.79 1322 v4.5 M2770.4 1322 v7 M2781 1322 v4.5 M2791.6 1322 v4.5" stroke="#3f62b5" stroke-width="1.700" fill="none"/>
<text transform="translate(1536.5,1581.5) rotate(-45)" font-size="19.5" text-anchor="end">Jan-26</text>
<text transform="translate(1568.31,1581.5) rotate(-45)" font-size="19.5" text-anchor="end">Apr-26</text>
<text transform="translate(1600.11,1581.5) rotate(-45)" font-size="19.5" text-anchor="end">Jul-26</text>
<text transform="translate(1631.92,1581.5) rotate(-45)" font-size="19.5" text-anchor="end">Oct-26</text>
<text transform="translate(1663.72,1581.5) rotate(-45)" font-size="19.5" text-anchor="end">Jan-27</text>
<text transform="translate(1695.53,1581.5) rotate(-45)" font-size="19.5" text-anchor="end">Apr-27</text>
<text transform="translate(1727.33,1581.5) rotate(-45)" font-size="19.5" text-anchor="end">Jul-27</text>
<text transform="translate(1759.14,1581.5) rotate(-45)" font-size="19.5" text-anchor="end">Oct-27</text>
<text transform="translate(1790.94,1581.5) rotate(-45)" font-size="19.5" text-anchor="end">Jan-28</text>
<text transform="translate(1822.75,1581.5) rotate(-45)" font-size="19.5" text-anchor="end">Apr-28</text>
<text transform="translate(1854.55,1581.5) rotate(-45)" font-size="19.5" text-anchor="end">Jul-28</text>
<text transform="translate(1886.36,1581.5) rotate(-45)" font-size="19.5" text-anchor="end">Oct-28</text>
<text transform="translate(1918.16,1581.5) rotate(-45)" font-size="19.5" text-anchor="end">Jan-29</text>
<text transform="translate(1949.97,1581.5) rotate(-45)" font-size="19.5" text-anchor="end">Apr-29</text>
<text transform="translate(1981.77,1581.5) rotate(-45)" font-size="19.5" text-anchor="end">Jul-29</text>
<text transform="translate(2013.58,1581.5) rotate(-45)" font-size="19.5" text-anchor="end">Oct-29</text>
<text transform="translate(2045.38,1581.5) rotate(-45)" font-size="19.5" text-anchor="end">Jan-30</text>
<text transform="translate(2077.19,1581.5) rotate(-45)" font-size="19.5" text-anchor="end">Apr-30</text>
<text transform="translate(2108.99,1581.5) rotate(-45)" font-size="19.5" text-anchor="end">Jul-30</text>
<text transform="translate(2140.8,1581.5) rotate(-45)" font-size="19.5" text-anchor="end">Oct-30</text>
<text transform="translate(2172.6,1581.5) rotate(-45)" font-size="19.5" text-anchor="end">Jan-31</text>
<text transform="translate(2204.41,1581.5) rotate(-45)" font-size="19.5" text-anchor="end">Apr-31</text>
<text transform="translate(2236.21,1581.5) rotate(-45)" font-size="19.5" text-anchor="end">Jul-31</text>
<text transform="translate(2268.02,1581.5) rotate(-45)" font-size="19.5" text-anchor="end">Oct-31</text>
<text transform="translate(2299.82,1581.5) rotate(-45)" font-size="19.5" text-anchor="end">Jan-32</text>
<text transform="translate(2331.63,1581.5) rotate(-45)" font-size="19.5" text-anchor="end">Apr-32</text>
<text transform="translate(2363.43,1581.5) rotate(-45)" font-size="19.5" text-anchor="end">Jul-32</text>
<text transform="translate(2395.24,1581.5) rotate(-45)" font-size="19.5" text-anchor="end">Oct-32</text>
<text transform="translate(2427.04,1581.5) rotate(-45)" font-size="19.5" text-anchor="end">Jan-33</text>
<text transform="translate(2458.85,1581.5) rotate(-45)" font-size="19.5" text-anchor="end">Apr-33</text>
<text transform="translate(2490.65,1581.5) rotate(-45)" font-size="19.5" text-anchor="end">Jul-33</text>
<text transform="translate(2522.46,1581.5) rotate(-45)" font-size="19.5" text-anchor="end">Oct-33</text>
<text transform="translate(2554.26,1581.5) rotate(-45)" font-size="19.5" text-anchor="end">Jan-34</text>
<text transform="translate(2586.07,1581.5) rotate(-45)" font-size="19.5" text-anchor="end">Apr-34</text>
<text transform="translate(2617.87,1581.5) rotate(-45)" font-size="19.5" text-anchor="end">Jul-34</text>
<text transform="translate(2649.68,1581.5) rotate(-45)" font-size="19.5" text-anchor="end">Oct-34</text>
<text transform="translate(2681.48,1581.5) rotate(-45)" font-size="19.5" text-anchor="end">Jan-35</text>
<text transform="translate(2713.29,1581.5) rotate(-45)" font-size="19.5" text-anchor="end">Apr-35</text>
<text transform="translate(2745.09,1581.5) rotate(-45)" font-size="19.5" text-anchor="end">Jul-35</text>
<text transform="translate(2776.9,1581.5) rotate(-45)" font-size="19.5" text-anchor="end">Oct-35</text>
<text x="803" y="1696.9" font-size="34.5" text-anchor="end" font-weight="bold" stroke="#000" stroke-width="0.55">PROFITABILITY - </text>
<text x="803" y="1696.9" font-size="34.5" font-weight="bold" stroke="#000" stroke-width="0.55">$'000</text>
<text x="1822" y="1692.8" font-size="34.5" font-weight="bold" stroke="#000" stroke-width="0.55" textLength="566" lengthAdjust="spacingAndGlyphs">OPERATING CASH FLOW - $'000</text>
</g></svg>
</div>
<div class="sec" id="sheet-tabs">
<div style="left:11px;top:1670px;width:2880px;height:48px;background:#0a0a0a;"></div>
<svg style="left:40px;top:1682px" width="70" height="22"><path d="M14 4 L7 10.700 L14 17.400" fill="none" stroke="#8c8c8c" stroke-width="2"/><path d="M56 4 L63 10.700 L56 17.400" fill="none" stroke="#e8e8e8" stroke-width="2"/></svg>
<span class="t" style="font-family:'Liberation Sans', sans-serif;font-size:20.5px;color:#fff;left:190px;top:1685.36px;transform:scaleX(1.0114);transform-origin:0 0;">Contents</span>
<div style="left:299px;top:1676px;width:128px;height:36px;background:#ffee6d;border-radius:7px;"></div>
<span class="t" style="font-family:'Liberation Sans', sans-serif;font-size:20.5px;color:#111;left:312px;top:1685.36px;transform:scaleX(1.017);transform-origin:0 0;">Dashboard</span>
<div style="left:292px;top:1680px;width:1px;height:28px;background:#4a4a4a;"></div>
<div style="left:440px;top:1676px;width:106px;height:36px;background:#ffee6d;border-radius:7px;"></div>
<span class="t" style="font-family:'Liberation Sans', sans-serif;font-size:20.5px;color:#111;left:453px;top:1685.36px;transform:scaleX(0.9749);transform-origin:0 0;">Revenue</span>
<div style="left:433px;top:1680px;width:1px;height:28px;background:#4a4a4a;"></div>
<div style="left:559px;top:1676px;width:158px;height:36px;background:#ffee6d;border-radius:7px;"></div>
<span class="t" style="font-family:'Liberation Sans', sans-serif;font-size:20.5px;color:#111;left:572px;top:1685.36px;transform:scaleX(0.9269);transform-origin:0 0;">COGS &amp; OPEX</span>
<div style="left:552px;top:1680px;width:1px;height:28px;background:#4a4a4a;"></div>
<div style="left:730px;top:1676px;width:89px;height:36px;background:#ffee6d;border-radius:7px;"></div>
<span class="t" style="font-family:'Liberation Sans', sans-serif;font-size:20.5px;color:#111;left:743px;top:1685.36px;transform:scaleX(1.0052);transform-origin:0 0;">Payroll</span>
<div style="left:723px;top:1680px;width:1px;height:28px;background:#4a4a4a;"></div>
<div style="left:832px;top:1676px;width:86.5px;height:36px;background:#ffee6d;border-radius:7px;"></div>
<span class="t" style="font-family:'Liberation Sans', sans-serif;font-size:20.5px;color:#111;left:845px;top:1685.36px;transform:scaleX(0.8705);transform-origin:0 0;">CAPEX</span>
<div style="left:825px;top:1680px;width:1px;height:28px;background:#4a4a4a;"></div>
<div style="left:932px;top:1676px;width:112.5px;height:36px;background:#ffee6d;border-radius:7px;"></div>
<span class="t" style="font-family:'Liberation Sans', sans-serif;font-size:20.5px;color:#111;left:945px;top:1685.36px;">CapTable</span>
<div style="left:925px;top:1680px;width:1px;height:28px;background:#4a4a4a;"></div>
<div style="left:1058px;top:1676px;width:90px;height:36px;background:#ffee6d;border-radius:7px;"></div>
<span class="t" style="font-family:'Liberation Sans', sans-serif;font-size:20.5px;color:#111;left:1071px;top:1685.36px;">Capital</span>
<div style="left:1051px;top:1680px;width:1px;height:28px;background:#4a4a4a;"></div>
<div style="left:1161px;top:1676px;width:42px;height:36px;background:#4db2e8;border-radius:7px;"></div>
<span class="t" style="font-family:'Liberation Sans', sans-serif;font-size:20.5px;color:#111;left:1174px;top:1685.36px;transform:scaleX(0.8258);transform-origin:0 0;">IS</span>
<div style="left:1154px;top:1680px;width:1px;height:28px;background:#4a4a4a;"></div>
<div style="left:1216px;top:1676px;width:48px;height:36px;background:#4db2e8;border-radius:7px;"></div>
<span class="t" style="font-family:'Liberation Sans', sans-serif;font-size:20.5px;color:#111;left:1229px;top:1685.36px;transform:scaleX(0.805);transform-origin:0 0;">CF</span>
<div style="left:1209px;top:1680px;width:1px;height:28px;background:#4a4a4a;"></div>
<div style="left:1277px;top:1676px;width:47.5px;height:36px;background:#4db2e8;border-radius:7px;"></div>
<span class="t" style="font-family:'Liberation Sans', sans-serif;font-size:20.5px;color:#111;left:1290px;top:1685.36px;transform:scaleX(0.7858);transform-origin:0 0;">BS</span>
<div style="left:1270px;top:1680px;width:1px;height:28px;background:#4a4a4a;"></div>
<div style="left:1338px;top:1676px;width:114.5px;height:36px;background:#4db2e8;border-radius:7px;"></div>
<span class="t" style="font-family:'Liberation Sans', sans-serif;font-size:20.5px;color:#111;left:1351px;top:1685.36px;transform:scaleX(0.9707);transform-origin:0 0;">Scenarios</span>
<div style="left:1331px;top:1680px;width:1px;height:28px;background:#4a4a4a;"></div>
<div style="left:1465.5px;top:1676px;width:115.5px;height:36px;background:#4db2e8;border-radius:7px;"></div>
<span class="t" style="font-family:'Liberation Sans', sans-serif;font-size:20.5px;color:#111;left:1478.5px;top:1685.36px;transform:scaleX(1.0659);transform-origin:0 0;">Valuation</span>
<div style="left:1458.5px;top:1680px;width:1px;height:28px;background:#4a4a4a;"></div>
<div style="left:1594px;top:1676px;width:113.5px;height:36px;background:#4db2e8;border-radius:7px;"></div>
<span class="t" style="font-family:'Liberation Sans', sans-serif;font-size:20.5px;color:#111;left:1607px;top:1685.36px;">Summary</span>
<div style="left:1587px;top:1680px;width:1px;height:28px;background:#4a4a4a;"></div>
<div style="left:1721px;top:1676px;width:48px;height:36px;background:#4db2e8;border-radius:7px;"></div>
<span class="t" style="font-family:'Liberation Sans', sans-serif;font-size:20.5px;color:#111;left:1734px;top:1685.36px;transform:scaleX(0.8041);transform-origin:0 0;">BE</span>
<div style="left:1714px;top:1680px;width:1px;height:28px;background:#4a4a4a;"></div>
<div style="left:1782px;top:1676px;width:72px;height:36px;background:#4db2e8;border-radius:7px;"></div>
<span class="t" style="font-family:'Liberation Sans', sans-serif;font-size:20.5px;color:#111;left:1795px;top:1685.36px;transform:scaleX(0.8976);transform-origin:0 0;">ROIC</span>
<div style="left:1775px;top:1680px;width:1px;height:28px;background:#4a4a4a;"></div>
<div style="left:1867px;top:1670.5px;width:84.5px;height:41.5px;background:linear-gradient(#fff 0%,#fff 45%,#cfe6f6 100%);border-radius:7px;box-shadow:0 0 0 1px #222;"></div>
<span class="t" style="font-family:'Liberation Sans', sans-serif;font-size:20.5px;color:#1a1a1a;left:1879.5px;top:1682.46px;transform:scaleX(0.9935);transform-origin:0 0;-webkit-text-stroke:0.45px #1a1a1a;">Charts</span>
<div style="left:1879.5px;top:1705.5px;width:60px;height:2.8px;background:#1e7145;"></div>
<div style="left:1860px;top:1680px;width:1px;height:28px;background:#4a4a4a;"></div>
<div style="left:1964.5px;top:1676px;width:64.5px;height:36px;background:#4db2e8;border-radius:7px;"></div>
<span class="t" style="font-family:'Liberation Sans', sans-serif;font-size:20.5px;color:#111;left:1977.5px;top:1685.36px;transform:scaleX(0.8892);transform-origin:0 0;">KPIs</span>
<div style="left:1957.5px;top:1680px;width:1px;height:28px;background:#4a4a4a;"></div>
<div style="left:2042px;top:1676px;width:30px;height:36px;background:#4db2e8;border-radius:7px 0 0 7px;overflow:hidden"><span class="t" style="position:absolute;left:12.500px;top:8.56px;font-size:20.5px;color:#111">Sc</span></div>
<div style="left:1958px;top:1680px;width:1px;height:28px;background:#4a4a4a;"></div>
<div style="left:2035.5px;top:1680px;width:1px;height:28px;background:#4a4a4a;"></div>
<svg style="left:2080px;top:1680px" width="130" height="30"><g fill="#e6e6e6"><circle cx="10" cy="12.500" r="2"/><circle cx="15.500" cy="12.500" r="2"/><circle cx="21" cy="12.500" r="2"/><rect x="110.700" y="5" width="2.600" height="2.600"/><rect x="110.700" y="11.500" width="2.600" height="2.600"/><rect x="110.700" y="18" width="2.600" height="2.600"/></g><path d="M63 4.500 V21.500 M54.500 13 H71.500" stroke="#e6e6e6" stroke-width="1.500"/></svg>
<div style="left:2216px;top:1680px;width:643px;height:27px;background:#141414;border-radius:13.500px;"></div>
<div style="left:2242px;top:1686.5px;width:560px;height:12.5px;background:#9a9a9a;border-radius:6.500px;"></div>
<svg style="left:2222px;top:1685px" width="640" height="18"><path d="M12.500 2 L3 8.500 L12.500 15 Z M621 2 L630.500 8.500 L621 15 Z" fill="#9a9a9a" stroke="#9a9a9a" stroke-width="1.400" stroke-linejoin="round"/></svg>
</div>
<div class="sec" id="statusbar">
<div style="left:11px;top:1718px;width:2880px;height:33px;background:#141414;"></div>
<div style="left:11px;top:1717.5px;width:2880px;height:1px;background:#2a2a2a;"></div>
<span class="t" style="font-family:'Liberation Sans', sans-serif;font-size:16.5px;color:#fff;left:27px;top:1727.54px;transform:scaleX(0.8909);transform-origin:0 0;">Ready</span>
<svg style="left:97px;top:1724px" width="28" height="22"><g fill="none" stroke="#f0f0f0" stroke-width="1.400"><path d="M12 18.500 H2.700 V2.700 H23 V7"/><path d="M2.700 6.500 H23 M5 10.500 H10 M5 14 H9"/><circle cx="17" cy="13.500" r="5.700"/><circle cx="17" cy="13.500" r="2.300"/></g></svg>
<svg style="left:144px;top:1722px" width="26" height="24"><g fill="none" stroke="#f0f0f0" stroke-width="1.500" stroke-linecap="round"><circle cx="11" cy="4" r="2.300"/><path d="M2.500 8 Q11 11.500 19.500 8 M11 10.500 V14 M11 14 L5.500 21.500 M11 14 L14 17.500"/><path d="M15 15.500 L22.500 23 M22.500 15.500 L15 23"/></g></svg>
<span class="t" style="font-family:'Liberation Sans', sans-serif;font-size:16.5px;font-weight:bold;color:#fff;left:172.5px;top:1727.54px;transform:scaleX(0.956);transform-origin:0 0;-webkit-text-stroke:0.3px #fff;">Accessibility: Investigate</span>
<div style="left:2445.5px;top:1718.5px;width:59.5px;height:32.5px;background:#262626;"></div>
<svg style="left:2460px;top:1723px" width="160" height="24"><g fill="none" stroke="#f0f0f0" stroke-width="1.900"><rect x="4.500" y="2.500" width="19" height="18"/><path d="M10.800 2.500 V20.500 M17.200 2.500 V20.500 M4.500 8.500 H23.500 M4.500 14.500 H23.500"/><rect x="65" y="2.500" width="20.500" height="18"/><rect x="69.500" y="6.500" width="11.500" height="10.500"/><path d="M72 10 H78.500 M72 13.500 H78.500"/><path d="M125 2.500 H145.500 V20.500 H125 Z M131.500 2.500 V11.500 H125 M131.500 11.500 H138.500 V2.500"/></g></svg>
<svg style="left:2630px;top:1724px" width="200" height="22"><path d="M3 10.500 H14.500 M23 10.500 H171 M179.500 10.500 H191.500 M185.500 4.500 V16.500" stroke="#bdbdbd" stroke-width="1.300"/><rect x="96" y="1.500" width="8" height="17.500" fill="#bdbdbd"/></svg>
<span class="t" style="font-family:'Liberation Sans', sans-serif;font-size:16.5px;color:#fff;left:2840px;top:1727.54px;transform:scaleX(0.9516);transform-origin:0 0;">110%</span>
</div>
</body></html>
